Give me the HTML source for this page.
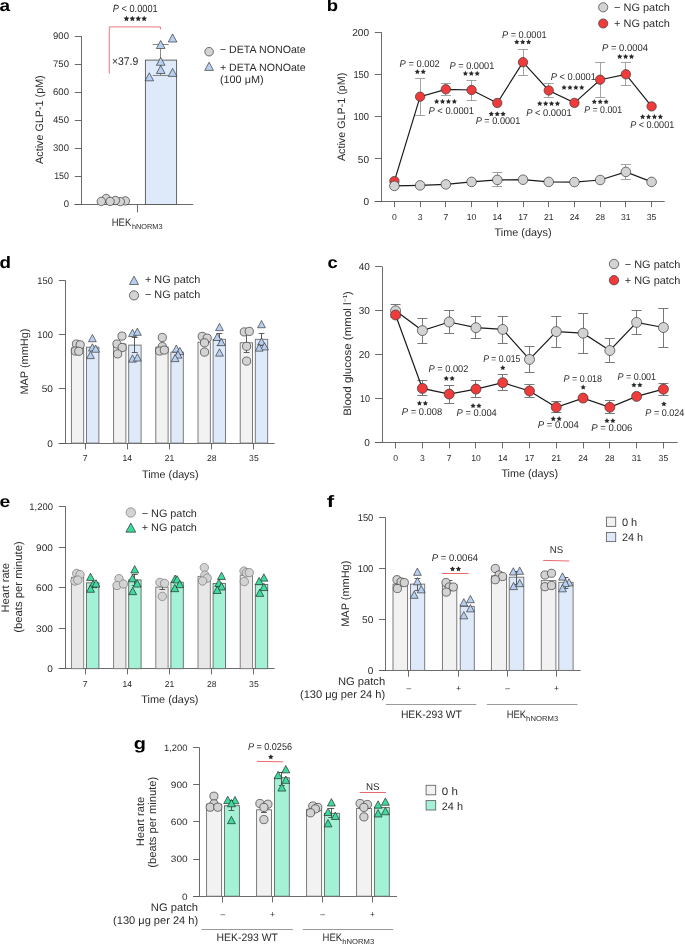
<!DOCTYPE html>
<html><head><meta charset="utf-8"><style>
html,body{margin:0;padding:0;background:#fff;}
svg{display:block;will-change:transform;}
text{font-family:"Liberation Sans", sans-serif;text-rendering:geometricPrecision;}
</style></head><body>
<svg width="685" height="945" viewBox="0 0 685 945">
<rect width="685" height="945" fill="#fff"/>
<g fill="#2b2b2b">
<text x="-0.60" y="11.30" font-size="16.5" textLength="10.60" lengthAdjust="spacingAndGlyphs" font-weight="bold" fill="#000">a</text>
<line x1="74.50" y1="204.50" x2="193.30" y2="204.50" stroke="#5a5a5a" stroke-width="0.9"/>
<line x1="81.50" y1="36.20" x2="81.50" y2="204.50" stroke="#5a5a5a" stroke-width="0.9"/>
<line x1="74.80" y1="204.50" x2="81.50" y2="204.50" stroke="#5a5a5a" stroke-width="0.9"/>
<text x="69.00" y="207.20" font-size="9.5" text-anchor="end" textLength="5.32" lengthAdjust="spacingAndGlyphs">0</text>
<line x1="74.80" y1="176.50" x2="81.50" y2="176.50" stroke="#5a5a5a" stroke-width="0.9"/>
<text x="69.00" y="179.15" font-size="9.5" text-anchor="end" textLength="14.82" lengthAdjust="spacingAndGlyphs">150</text>
<line x1="74.80" y1="148.50" x2="81.50" y2="148.50" stroke="#5a5a5a" stroke-width="0.9"/>
<text x="69.00" y="151.10" font-size="9.5" text-anchor="end" textLength="15.96" lengthAdjust="spacingAndGlyphs">300</text>
<line x1="74.80" y1="120.50" x2="81.50" y2="120.50" stroke="#5a5a5a" stroke-width="0.9"/>
<text x="69.00" y="123.05" font-size="9.5" text-anchor="end" textLength="15.96" lengthAdjust="spacingAndGlyphs">450</text>
<line x1="74.80" y1="92.50" x2="81.50" y2="92.50" stroke="#5a5a5a" stroke-width="0.9"/>
<text x="69.00" y="95.00" font-size="9.5" text-anchor="end" textLength="15.96" lengthAdjust="spacingAndGlyphs">600</text>
<line x1="74.80" y1="64.50" x2="81.50" y2="64.50" stroke="#5a5a5a" stroke-width="0.9"/>
<text x="69.00" y="66.95" font-size="9.5" text-anchor="end" textLength="15.96" lengthAdjust="spacingAndGlyphs">750</text>
<line x1="74.80" y1="36.50" x2="81.50" y2="36.50" stroke="#5a5a5a" stroke-width="0.9"/>
<text x="69.00" y="38.90" font-size="9.5" text-anchor="end" textLength="15.96" lengthAdjust="spacingAndGlyphs">900</text>
<line x1="137.50" y1="204.50" x2="137.50" y2="212.40" stroke="#5a5a5a" stroke-width="0.9"/>
<text transform="translate(42.70,119.60) rotate(-90)" x="0" y="0" font-size="10.8" text-anchor="middle" textLength="88.60" lengthAdjust="spacingAndGlyphs">Active GLP-1 (pM)</text>
<text x="111.80" y="226.00" font-size="10.8" textLength="19.40" lengthAdjust="spacingAndGlyphs">HEK</text>
<text x="131.90" y="229.20" font-size="7.3" textLength="30.60" lengthAdjust="spacingAndGlyphs">hNORM3</text>
<rect x="145.40" y="60.10" width="31.20" height="144.40" fill="#deeafa" stroke="#555" stroke-width="0.9"/>
<line x1="160.50" y1="44.40" x2="160.50" y2="75.50" stroke="#7a7a7a" stroke-width="0.9"/>
<line x1="152.70" y1="44.50" x2="168.70" y2="44.50" stroke="#7a7a7a" stroke-width="0.9"/>
<line x1="152.70" y1="75.50" x2="168.70" y2="75.50" stroke="#7a7a7a" stroke-width="0.9"/>
<circle cx="106.20" cy="198.50" r="4.2" fill="#d3d3d3" stroke="#3a3a3a" stroke-width="0.7"/>
<circle cx="125.40" cy="200.90" r="4.2" fill="#d3d3d3" stroke="#3a3a3a" stroke-width="0.7"/>
<circle cx="120.30" cy="201.60" r="4.2" fill="#d3d3d3" stroke="#3a3a3a" stroke-width="0.7"/>
<circle cx="115.40" cy="200.50" r="4.2" fill="#d3d3d3" stroke="#3a3a3a" stroke-width="0.7"/>
<circle cx="110.10" cy="201.40" r="4.2" fill="#d3d3d3" stroke="#3a3a3a" stroke-width="0.7"/>
<circle cx="101.30" cy="201.40" r="4.2" fill="#d3d3d3" stroke="#3a3a3a" stroke-width="0.7"/>
<polygon points="172.60,34.00 168.30,42.00 176.90,42.00" fill="#b7cff0" stroke="#3a3a3a" stroke-width="0.7" stroke-linejoin="miter"/>
<polygon points="160.70,40.50 156.40,48.50 165.00,48.50" fill="#b7cff0" stroke="#3a3a3a" stroke-width="0.7" stroke-linejoin="miter"/>
<polygon points="160.70,57.30 156.40,65.30 165.00,65.30" fill="#b7cff0" stroke="#3a3a3a" stroke-width="0.7" stroke-linejoin="miter"/>
<polygon points="160.70,65.50 156.40,73.50 165.00,73.50" fill="#b7cff0" stroke="#3a3a3a" stroke-width="0.7" stroke-linejoin="miter"/>
<polygon points="149.30,72.80 145.00,80.80 153.60,80.80" fill="#b7cff0" stroke="#3a3a3a" stroke-width="0.7" stroke-linejoin="miter"/>
<polygon points="172.60,68.40 168.30,76.40 176.90,76.40" fill="#b7cff0" stroke="#3a3a3a" stroke-width="0.7" stroke-linejoin="miter"/>
<path d="M109.3,73.6 V26.9 H160.4 V29.6" fill="none" stroke="#e8585c" stroke-width="0.8"/>
<text x="112.80" y="11.60" font-size="10.4" textLength="44.90" lengthAdjust="spacingAndGlyphs"><tspan font-style="italic">P</tspan> &lt; 0.0001</text>
<polygon points="126.45,15.70 127.33,17.49 129.30,17.77 127.88,19.16 128.21,21.13 126.45,20.20 124.69,21.13 125.02,19.16 123.60,17.77 125.57,17.49" fill="#2b2b2b"/>
<polygon points="132.35,15.70 133.23,17.49 135.20,17.77 133.78,19.16 134.11,21.13 132.35,20.20 130.59,21.13 130.92,19.16 129.50,17.77 131.47,17.49" fill="#2b2b2b"/>
<polygon points="138.25,15.70 139.13,17.49 141.10,17.77 139.68,19.16 140.01,21.13 138.25,20.20 136.49,21.13 136.82,19.16 135.40,17.77 137.37,17.49" fill="#2b2b2b"/>
<polygon points="144.15,15.70 145.03,17.49 147.00,17.77 145.58,19.16 145.91,21.13 144.15,20.20 142.39,21.13 142.72,19.16 141.30,17.77 143.27,17.49" fill="#2b2b2b"/>
<text x="111.90" y="65.20" font-size="11.2" textLength="26.30" lengthAdjust="spacingAndGlyphs">×37.9</text>
<circle cx="209.10" cy="51.70" r="4.3" fill="#d3d3d3" stroke="#3a3a3a" stroke-width="0.7"/>
<polygon points="209.10,62.21 204.70,70.39 213.50,70.39" fill="#b7cff0" stroke="#3a3a3a" stroke-width="0.7" stroke-linejoin="miter"/>
<text x="219.90" y="53.40" font-size="10.6" textLength="85.80" lengthAdjust="spacingAndGlyphs">− DETA NONOate</text>
<text x="219.90" y="70.90" font-size="10.6" textLength="85.80" lengthAdjust="spacingAndGlyphs">+ DETA NONOate</text>
<text x="219.90" y="82.90" font-size="10.6" textLength="43.70" lengthAdjust="spacingAndGlyphs">(100 μM)</text>
<text x="326.70" y="11.30" font-size="16.5" textLength="11.30" lengthAdjust="spacingAndGlyphs" font-weight="bold" fill="#000">b</text>
<line x1="374.80" y1="201.50" x2="664.70" y2="201.50" stroke="#5a5a5a" stroke-width="0.9"/>
<line x1="381.50" y1="32.30" x2="381.50" y2="201.20" stroke="#5a5a5a" stroke-width="0.9"/>
<line x1="374.80" y1="201.50" x2="381.50" y2="201.50" stroke="#5a5a5a" stroke-width="0.9"/>
<text x="369.00" y="204.84" font-size="10.1" text-anchor="end" textLength="5.60" lengthAdjust="spacingAndGlyphs">0</text>
<line x1="374.80" y1="158.50" x2="381.50" y2="158.50" stroke="#5a5a5a" stroke-width="0.9"/>
<text x="369.00" y="162.61" font-size="10.1" text-anchor="end" textLength="11.20" lengthAdjust="spacingAndGlyphs">50</text>
<line x1="374.80" y1="116.50" x2="381.50" y2="116.50" stroke="#5a5a5a" stroke-width="0.9"/>
<text x="369.00" y="120.39" font-size="10.1" text-anchor="end" textLength="15.60" lengthAdjust="spacingAndGlyphs">100</text>
<line x1="374.80" y1="74.50" x2="381.50" y2="74.50" stroke="#5a5a5a" stroke-width="0.9"/>
<text x="369.00" y="78.16" font-size="10.1" text-anchor="end" textLength="15.60" lengthAdjust="spacingAndGlyphs">150</text>
<line x1="374.80" y1="32.50" x2="381.50" y2="32.50" stroke="#5a5a5a" stroke-width="0.9"/>
<text x="369.00" y="35.94" font-size="10.1" text-anchor="end" textLength="16.80" lengthAdjust="spacingAndGlyphs">200</text>
<line x1="394.50" y1="201.20" x2="394.50" y2="207.20" stroke="#5a5a5a" stroke-width="0.9"/>
<text x="394.40" y="219.70" font-size="8.6" text-anchor="middle">0</text>
<line x1="420.50" y1="201.20" x2="420.50" y2="207.20" stroke="#5a5a5a" stroke-width="0.9"/>
<text x="420.12" y="219.70" font-size="8.6" text-anchor="middle">3</text>
<line x1="445.50" y1="201.20" x2="445.50" y2="207.20" stroke="#5a5a5a" stroke-width="0.9"/>
<text x="445.84" y="219.70" font-size="8.6" text-anchor="middle">7</text>
<line x1="471.50" y1="201.20" x2="471.50" y2="207.20" stroke="#5a5a5a" stroke-width="0.9"/>
<text x="471.56" y="219.70" font-size="8.6" text-anchor="middle">10</text>
<line x1="497.50" y1="201.20" x2="497.50" y2="207.20" stroke="#5a5a5a" stroke-width="0.9"/>
<text x="497.28" y="219.70" font-size="8.6" text-anchor="middle">14</text>
<line x1="523.50" y1="201.20" x2="523.50" y2="207.20" stroke="#5a5a5a" stroke-width="0.9"/>
<text x="523.00" y="219.70" font-size="8.6" text-anchor="middle">17</text>
<line x1="548.50" y1="201.20" x2="548.50" y2="207.20" stroke="#5a5a5a" stroke-width="0.9"/>
<text x="548.72" y="219.70" font-size="8.6" text-anchor="middle">21</text>
<line x1="574.50" y1="201.20" x2="574.50" y2="207.20" stroke="#5a5a5a" stroke-width="0.9"/>
<text x="574.44" y="219.70" font-size="8.6" text-anchor="middle">24</text>
<line x1="600.50" y1="201.20" x2="600.50" y2="207.20" stroke="#5a5a5a" stroke-width="0.9"/>
<text x="600.16" y="219.70" font-size="8.6" text-anchor="middle">28</text>
<line x1="625.50" y1="201.20" x2="625.50" y2="207.20" stroke="#5a5a5a" stroke-width="0.9"/>
<text x="625.88" y="219.70" font-size="8.6" text-anchor="middle">31</text>
<line x1="651.50" y1="201.20" x2="651.50" y2="207.20" stroke="#5a5a5a" stroke-width="0.9"/>
<text x="651.60" y="219.70" font-size="8.6" text-anchor="middle">35</text>
<text x="494.60" y="236.40" font-size="10.9" textLength="57.00" lengthAdjust="spacingAndGlyphs">Time (days)</text>
<text transform="translate(344.50,116.90) rotate(-90)" x="0" y="0" font-size="10.8" text-anchor="middle" textLength="88.30" lengthAdjust="spacingAndGlyphs">Active GLP-1 (pM)</text>
<line x1="497.50" y1="172.50" x2="497.50" y2="186.80" stroke="#8c8c8c" stroke-width="0.8"/>
<line x1="492.28" y1="172.50" x2="502.28" y2="172.50" stroke="#8c8c8c" stroke-width="0.8"/>
<line x1="492.28" y1="186.50" x2="502.28" y2="186.50" stroke="#8c8c8c" stroke-width="0.8"/>
<line x1="625.50" y1="164.60" x2="625.50" y2="179.20" stroke="#8c8c8c" stroke-width="0.8"/>
<line x1="620.88" y1="164.50" x2="630.88" y2="164.50" stroke="#8c8c8c" stroke-width="0.8"/>
<line x1="620.88" y1="179.50" x2="630.88" y2="179.50" stroke="#8c8c8c" stroke-width="0.8"/>
<line x1="420.50" y1="78.50" x2="420.50" y2="115.30" stroke="#8c8c8c" stroke-width="0.8"/>
<line x1="415.12" y1="78.50" x2="425.12" y2="78.50" stroke="#8c8c8c" stroke-width="0.8"/>
<line x1="415.12" y1="115.50" x2="425.12" y2="115.50" stroke="#8c8c8c" stroke-width="0.8"/>
<line x1="445.50" y1="83.50" x2="445.50" y2="95.20" stroke="#8c8c8c" stroke-width="0.8"/>
<line x1="440.84" y1="83.50" x2="450.84" y2="83.50" stroke="#8c8c8c" stroke-width="0.8"/>
<line x1="440.84" y1="95.50" x2="450.84" y2="95.50" stroke="#8c8c8c" stroke-width="0.8"/>
<line x1="471.50" y1="80.30" x2="471.50" y2="100.40" stroke="#8c8c8c" stroke-width="0.8"/>
<line x1="466.56" y1="80.50" x2="476.56" y2="80.50" stroke="#8c8c8c" stroke-width="0.8"/>
<line x1="466.56" y1="100.50" x2="476.56" y2="100.50" stroke="#8c8c8c" stroke-width="0.8"/>
<line x1="523.50" y1="49.40" x2="523.50" y2="75.10" stroke="#8c8c8c" stroke-width="0.8"/>
<line x1="518.00" y1="49.50" x2="528.00" y2="49.50" stroke="#8c8c8c" stroke-width="0.8"/>
<line x1="518.00" y1="75.50" x2="528.00" y2="75.50" stroke="#8c8c8c" stroke-width="0.8"/>
<line x1="548.50" y1="83.70" x2="548.50" y2="97.20" stroke="#8c8c8c" stroke-width="0.8"/>
<line x1="543.72" y1="83.50" x2="553.72" y2="83.50" stroke="#8c8c8c" stroke-width="0.8"/>
<line x1="543.72" y1="97.50" x2="553.72" y2="97.50" stroke="#8c8c8c" stroke-width="0.8"/>
<line x1="600.50" y1="62.40" x2="600.50" y2="97.20" stroke="#8c8c8c" stroke-width="0.8"/>
<line x1="595.16" y1="62.50" x2="605.16" y2="62.50" stroke="#8c8c8c" stroke-width="0.8"/>
<line x1="595.16" y1="97.50" x2="605.16" y2="97.50" stroke="#8c8c8c" stroke-width="0.8"/>
<line x1="625.50" y1="62.40" x2="625.50" y2="85.90" stroke="#8c8c8c" stroke-width="0.8"/>
<line x1="620.88" y1="62.50" x2="630.88" y2="62.50" stroke="#8c8c8c" stroke-width="0.8"/>
<line x1="620.88" y1="85.50" x2="630.88" y2="85.50" stroke="#8c8c8c" stroke-width="0.8"/>
<polyline points="394.40,185.90 420.12,185.40 445.84,184.40 471.56,181.90 497.28,179.90 523.00,179.70 548.72,181.90 574.44,182.10 600.16,180.00 625.88,171.90 651.60,181.90" fill="none" stroke="#1a1a1a" stroke-width="1.2"/>
<polyline points="394.40,181.10 420.12,96.70 445.84,89.30 471.56,90.00 497.28,103.00 523.00,62.20 548.72,90.50 574.44,102.90 600.16,79.70 625.88,74.30 651.60,106.40" fill="none" stroke="#1a1a1a" stroke-width="1.2"/>
<circle cx="394.40" cy="181.10" r="4.7" fill="#ef3b3b" stroke="#3a3a3a" stroke-width="0.7"/>
<circle cx="394.40" cy="185.90" r="4.8" fill="#d3d3d3" stroke="#3a3a3a" stroke-width="0.7"/>
<circle cx="420.12" cy="185.40" r="4.8" fill="#d3d3d3" stroke="#3a3a3a" stroke-width="0.7"/>
<circle cx="445.84" cy="184.40" r="4.8" fill="#d3d3d3" stroke="#3a3a3a" stroke-width="0.7"/>
<circle cx="471.56" cy="181.90" r="4.8" fill="#d3d3d3" stroke="#3a3a3a" stroke-width="0.7"/>
<circle cx="497.28" cy="179.90" r="4.8" fill="#d3d3d3" stroke="#3a3a3a" stroke-width="0.7"/>
<circle cx="523.00" cy="179.70" r="4.8" fill="#d3d3d3" stroke="#3a3a3a" stroke-width="0.7"/>
<circle cx="548.72" cy="181.90" r="4.8" fill="#d3d3d3" stroke="#3a3a3a" stroke-width="0.7"/>
<circle cx="574.44" cy="182.10" r="4.8" fill="#d3d3d3" stroke="#3a3a3a" stroke-width="0.7"/>
<circle cx="600.16" cy="180.00" r="4.8" fill="#d3d3d3" stroke="#3a3a3a" stroke-width="0.7"/>
<circle cx="625.88" cy="171.90" r="4.8" fill="#d3d3d3" stroke="#3a3a3a" stroke-width="0.7"/>
<circle cx="651.60" cy="181.90" r="4.8" fill="#d3d3d3" stroke="#3a3a3a" stroke-width="0.7"/>
<circle cx="420.12" cy="96.70" r="4.7" fill="#ef3b3b" stroke="#3a3a3a" stroke-width="0.7"/>
<circle cx="445.84" cy="89.30" r="4.7" fill="#ef3b3b" stroke="#3a3a3a" stroke-width="0.7"/>
<circle cx="471.56" cy="90.00" r="4.7" fill="#ef3b3b" stroke="#3a3a3a" stroke-width="0.7"/>
<circle cx="497.28" cy="103.00" r="4.7" fill="#ef3b3b" stroke="#3a3a3a" stroke-width="0.7"/>
<circle cx="523.00" cy="62.20" r="4.7" fill="#ef3b3b" stroke="#3a3a3a" stroke-width="0.7"/>
<circle cx="548.72" cy="90.50" r="4.7" fill="#ef3b3b" stroke="#3a3a3a" stroke-width="0.7"/>
<circle cx="574.44" cy="102.90" r="4.7" fill="#ef3b3b" stroke="#3a3a3a" stroke-width="0.7"/>
<circle cx="600.16" cy="79.70" r="4.7" fill="#ef3b3b" stroke="#3a3a3a" stroke-width="0.7"/>
<circle cx="625.88" cy="74.30" r="4.7" fill="#ef3b3b" stroke="#3a3a3a" stroke-width="0.7"/>
<circle cx="651.60" cy="106.40" r="4.7" fill="#ef3b3b" stroke="#3a3a3a" stroke-width="0.7"/>
<text x="399.60" y="67.00" font-size="9.8" textLength="40.20" lengthAdjust="spacingAndGlyphs"><tspan font-style="italic">P</tspan> = 0.002</text>
<polygon points="417.35,69.00 418.17,70.67 420.01,70.93 418.68,72.23 419.00,74.07 417.35,73.20 415.70,74.07 416.02,72.23 414.69,70.93 416.53,70.67" fill="#2b2b2b"/>
<polygon points="423.25,69.00 424.07,70.67 425.91,70.93 424.58,72.23 424.90,74.07 423.25,73.20 421.60,74.07 421.92,72.23 420.59,70.93 422.43,70.67" fill="#2b2b2b"/>
<polygon points="436.65,98.80 437.47,100.47 439.31,100.73 437.98,102.03 438.30,103.87 436.65,103.00 435.00,103.87 435.32,102.03 433.99,100.73 435.83,100.47" fill="#2b2b2b"/>
<polygon points="442.55,98.80 443.37,100.47 445.21,100.73 443.88,102.03 444.20,103.87 442.55,103.00 440.90,103.87 441.22,102.03 439.89,100.73 441.73,100.47" fill="#2b2b2b"/>
<polygon points="448.45,98.80 449.27,100.47 451.11,100.73 449.78,102.03 450.10,103.87 448.45,103.00 446.80,103.87 447.12,102.03 445.79,100.73 447.63,100.47" fill="#2b2b2b"/>
<polygon points="454.35,98.80 455.17,100.47 457.01,100.73 455.68,102.03 456.00,103.87 454.35,103.00 452.70,103.87 453.02,102.03 451.69,100.73 453.53,100.47" fill="#2b2b2b"/>
<text x="428.50" y="114.00" font-size="9.8" textLength="45.50" lengthAdjust="spacingAndGlyphs"><tspan font-style="italic">P</tspan> &lt; 0.0001</text>
<text x="449.60" y="68.60" font-size="9.8" textLength="44.70" lengthAdjust="spacingAndGlyphs"><tspan font-style="italic">P</tspan> = 0.0001</text>
<polygon points="465.40,70.80 466.22,72.47 468.06,72.73 466.73,74.03 467.05,75.87 465.40,75.00 463.75,75.87 464.07,74.03 462.74,72.73 464.58,72.47" fill="#2b2b2b"/>
<polygon points="471.30,70.80 472.12,72.47 473.96,72.73 472.63,74.03 472.95,75.87 471.30,75.00 469.65,75.87 469.97,74.03 468.64,72.73 470.48,72.47" fill="#2b2b2b"/>
<polygon points="477.20,70.80 478.02,72.47 479.86,72.73 478.53,74.03 478.85,75.87 477.20,75.00 475.55,75.87 475.87,74.03 474.54,72.73 476.38,72.47" fill="#2b2b2b"/>
<polygon points="491.30,111.20 492.12,112.87 493.96,113.13 492.63,114.43 492.95,116.27 491.30,115.40 489.65,116.27 489.97,114.43 488.64,113.13 490.48,112.87" fill="#2b2b2b"/>
<polygon points="497.20,111.20 498.02,112.87 499.86,113.13 498.53,114.43 498.85,116.27 497.20,115.40 495.55,116.27 495.87,114.43 494.54,113.13 496.38,112.87" fill="#2b2b2b"/>
<polygon points="503.10,111.20 503.92,112.87 505.76,113.13 504.43,114.43 504.75,116.27 503.10,115.40 501.45,116.27 501.77,114.43 500.44,113.13 502.28,112.87" fill="#2b2b2b"/>
<text x="475.70" y="124.40" font-size="9.8" textLength="44.60" lengthAdjust="spacingAndGlyphs"><tspan font-style="italic">P</tspan> = 0.0001</text>
<text x="502.00" y="37.60" font-size="9.8" textLength="44.70" lengthAdjust="spacingAndGlyphs"><tspan font-style="italic">P</tspan> = 0.0001</text>
<polygon points="516.80,39.30 517.62,40.97 519.46,41.23 518.13,42.53 518.45,44.37 516.80,43.50 515.15,44.37 515.47,42.53 514.14,41.23 515.98,40.97" fill="#2b2b2b"/>
<polygon points="522.70,39.30 523.52,40.97 525.36,41.23 524.03,42.53 524.35,44.37 522.70,43.50 521.05,44.37 521.37,42.53 520.04,41.23 521.88,40.97" fill="#2b2b2b"/>
<polygon points="528.60,39.30 529.42,40.97 531.26,41.23 529.93,42.53 530.25,44.37 528.60,43.50 526.95,44.37 527.27,42.53 525.94,41.23 527.78,40.97" fill="#2b2b2b"/>
<polygon points="539.75,100.90 540.57,102.57 542.41,102.83 541.08,104.13 541.40,105.97 539.75,105.10 538.10,105.97 538.42,104.13 537.09,102.83 538.93,102.57" fill="#2b2b2b"/>
<polygon points="545.65,100.90 546.47,102.57 548.31,102.83 546.98,104.13 547.30,105.97 545.65,105.10 544.00,105.97 544.32,104.13 542.99,102.83 544.83,102.57" fill="#2b2b2b"/>
<polygon points="551.55,100.90 552.37,102.57 554.21,102.83 552.88,104.13 553.20,105.97 551.55,105.10 549.90,105.97 550.22,104.13 548.89,102.83 550.73,102.57" fill="#2b2b2b"/>
<polygon points="557.45,100.90 558.27,102.57 560.11,102.83 558.78,104.13 559.10,105.97 557.45,105.10 555.80,105.97 556.12,104.13 554.79,102.83 556.63,102.57" fill="#2b2b2b"/>
<text x="526.20" y="115.60" font-size="9.8" textLength="45.40" lengthAdjust="spacingAndGlyphs"><tspan font-style="italic">P</tspan> &lt; 0.0001</text>
<text x="550.80" y="79.90" font-size="9.8" textLength="45.10" lengthAdjust="spacingAndGlyphs"><tspan font-style="italic">P</tspan> &lt; 0.0001</text>
<polygon points="564.05,84.80 564.87,86.47 566.71,86.73 565.38,88.03 565.70,89.87 564.05,89.00 562.40,89.87 562.72,88.03 561.39,86.73 563.23,86.47" fill="#2b2b2b"/>
<polygon points="569.95,84.80 570.77,86.47 572.61,86.73 571.28,88.03 571.60,89.87 569.95,89.00 568.30,89.87 568.62,88.03 567.29,86.73 569.13,86.47" fill="#2b2b2b"/>
<polygon points="575.85,84.80 576.67,86.47 578.51,86.73 577.18,88.03 577.50,89.87 575.85,89.00 574.20,89.87 574.52,88.03 573.19,86.73 575.03,86.47" fill="#2b2b2b"/>
<polygon points="581.75,84.80 582.57,86.47 584.41,86.73 583.08,88.03 583.40,89.87 581.75,89.00 580.10,89.87 580.42,88.03 579.09,86.73 580.93,86.47" fill="#2b2b2b"/>
<polygon points="594.30,99.00 595.12,100.67 596.96,100.93 595.63,102.23 595.95,104.07 594.30,103.20 592.65,104.07 592.97,102.23 591.64,100.93 593.48,100.67" fill="#2b2b2b"/>
<polygon points="600.20,99.00 601.02,100.67 602.86,100.93 601.53,102.23 601.85,104.07 600.20,103.20 598.55,104.07 598.87,102.23 597.54,100.93 599.38,100.67" fill="#2b2b2b"/>
<polygon points="606.10,99.00 606.92,100.67 608.76,100.93 607.43,102.23 607.75,104.07 606.10,103.20 604.45,104.07 604.77,102.23 603.44,100.93 605.28,100.67" fill="#2b2b2b"/>
<text x="584.30" y="112.90" font-size="9.8" textLength="37.70" lengthAdjust="spacingAndGlyphs"><tspan font-style="italic">P</tspan> = 0.001</text>
<text x="602.00" y="51.30" font-size="9.8" textLength="46.00" lengthAdjust="spacingAndGlyphs"><tspan font-style="italic">P</tspan> = 0.0004</text>
<polygon points="619.70,53.90 620.52,55.57 622.36,55.83 621.03,57.13 621.35,58.97 619.70,58.10 618.05,58.97 618.37,57.13 617.04,55.83 618.88,55.57" fill="#2b2b2b"/>
<polygon points="625.60,53.90 626.42,55.57 628.26,55.83 626.93,57.13 627.25,58.97 625.60,58.10 623.95,58.97 624.27,57.13 622.94,55.83 624.78,55.57" fill="#2b2b2b"/>
<polygon points="631.50,53.90 632.32,55.57 634.16,55.83 632.83,57.13 633.15,58.97 631.50,58.10 629.85,58.97 630.17,57.13 628.84,55.83 630.68,55.57" fill="#2b2b2b"/>
<polygon points="642.65,114.10 643.47,115.77 645.31,116.03 643.98,117.33 644.30,119.17 642.65,118.30 641.00,119.17 641.32,117.33 639.99,116.03 641.83,115.77" fill="#2b2b2b"/>
<polygon points="648.55,114.10 649.37,115.77 651.21,116.03 649.88,117.33 650.20,119.17 648.55,118.30 646.90,119.17 647.22,117.33 645.89,116.03 647.73,115.77" fill="#2b2b2b"/>
<polygon points="654.45,114.10 655.27,115.77 657.11,116.03 655.78,117.33 656.10,119.17 654.45,118.30 652.80,119.17 653.12,117.33 651.79,116.03 653.63,115.77" fill="#2b2b2b"/>
<polygon points="660.35,114.10 661.17,115.77 663.01,116.03 661.68,117.33 662.00,119.17 660.35,118.30 658.70,119.17 659.02,117.33 657.69,116.03 659.53,115.77" fill="#2b2b2b"/>
<text x="630.20" y="128.30" font-size="9.8" textLength="44.00" lengthAdjust="spacingAndGlyphs"><tspan font-style="italic">P</tspan> &lt; 0.0001</text>
<circle cx="603.20" cy="7.30" r="4.6" fill="#d3d3d3" stroke="#3a3a3a" stroke-width="0.7"/>
<circle cx="603.20" cy="23.50" r="4.6" fill="#ef3b3b" stroke="#3a3a3a" stroke-width="0.7"/>
<text x="614.00" y="10.80" font-size="10.8" textLength="55.80" lengthAdjust="spacingAndGlyphs">− NG patch</text>
<text x="614.00" y="27.00" font-size="10.8" textLength="55.80" lengthAdjust="spacingAndGlyphs">+ NG patch</text>
<text x="-0.60" y="267.50" font-size="16.5" textLength="11.50" lengthAdjust="spacingAndGlyphs" font-weight="bold" fill="#000">d</text>
<line x1="58.80" y1="443.50" x2="274.70" y2="443.50" stroke="#5a5a5a" stroke-width="0.9"/>
<line x1="65.50" y1="280.46" x2="65.50" y2="443.10" stroke="#5a5a5a" stroke-width="0.9"/>
<line x1="58.80" y1="443.50" x2="65.70" y2="443.50" stroke="#5a5a5a" stroke-width="0.9"/>
<text x="52.90" y="446.56" font-size="9.6" text-anchor="end" textLength="5.60" lengthAdjust="spacingAndGlyphs">0</text>
<line x1="58.80" y1="388.50" x2="65.70" y2="388.50" stroke="#5a5a5a" stroke-width="0.9"/>
<text x="52.90" y="392.34" font-size="9.6" text-anchor="end" textLength="11.20" lengthAdjust="spacingAndGlyphs">50</text>
<line x1="58.80" y1="334.50" x2="65.70" y2="334.50" stroke="#5a5a5a" stroke-width="0.9"/>
<text x="52.90" y="338.13" font-size="9.6" text-anchor="end" textLength="15.60" lengthAdjust="spacingAndGlyphs">100</text>
<line x1="58.80" y1="280.50" x2="65.70" y2="280.50" stroke="#5a5a5a" stroke-width="0.9"/>
<text x="52.90" y="283.91" font-size="9.6" text-anchor="end" textLength="15.60" lengthAdjust="spacingAndGlyphs">150</text>
<line x1="85.50" y1="443.10" x2="85.50" y2="449.40" stroke="#5a5a5a" stroke-width="0.9"/>
<text x="85.10" y="460.80" font-size="8.6" text-anchor="middle">7</text>
<line x1="127.50" y1="443.10" x2="127.50" y2="449.40" stroke="#5a5a5a" stroke-width="0.9"/>
<text x="127.30" y="460.80" font-size="8.6" text-anchor="middle">14</text>
<line x1="169.50" y1="443.10" x2="169.50" y2="449.40" stroke="#5a5a5a" stroke-width="0.9"/>
<text x="169.50" y="460.80" font-size="8.6" text-anchor="middle">21</text>
<line x1="211.50" y1="443.10" x2="211.50" y2="449.40" stroke="#5a5a5a" stroke-width="0.9"/>
<text x="211.70" y="460.80" font-size="8.6" text-anchor="middle">28</text>
<line x1="253.50" y1="443.10" x2="253.50" y2="449.40" stroke="#5a5a5a" stroke-width="0.9"/>
<text x="253.90" y="460.80" font-size="8.6" text-anchor="middle">35</text>
<text x="142.00" y="477.50" font-size="10.9" textLength="56.50" lengthAdjust="spacingAndGlyphs">Time (days)</text>
<text transform="translate(28.05,361.60) rotate(-90)" x="0" y="0" font-size="10.9" text-anchor="middle" textLength="66.00" lengthAdjust="spacingAndGlyphs">MAP (mmHg)</text>
<rect x="71.40" y="348.00" width="12.30" height="95.10" fill="#f2f2f2" stroke="#6e6e6e" stroke-width="0.9"/>
<rect x="86.50" y="347.20" width="12.40" height="95.90" fill="#deeafa" stroke="#6e6e6e" stroke-width="0.9"/>
<rect x="113.60" y="344.00" width="12.30" height="99.10" fill="#f2f2f2" stroke="#6e6e6e" stroke-width="0.9"/>
<rect x="128.70" y="345.10" width="12.40" height="98.00" fill="#deeafa" stroke="#6e6e6e" stroke-width="0.9"/>
<rect x="155.80" y="347.10" width="12.30" height="96.00" fill="#f2f2f2" stroke="#6e6e6e" stroke-width="0.9"/>
<rect x="170.90" y="352.10" width="12.40" height="91.00" fill="#deeafa" stroke="#6e6e6e" stroke-width="0.9"/>
<rect x="198.00" y="342.20" width="12.30" height="100.90" fill="#f2f2f2" stroke="#6e6e6e" stroke-width="0.9"/>
<rect x="213.10" y="339.30" width="12.40" height="103.80" fill="#deeafa" stroke="#6e6e6e" stroke-width="0.9"/>
<rect x="240.20" y="342.80" width="12.30" height="100.30" fill="#f2f2f2" stroke="#6e6e6e" stroke-width="0.9"/>
<rect x="255.30" y="339.30" width="12.40" height="103.80" fill="#deeafa" stroke="#6e6e6e" stroke-width="0.9"/>
<line x1="134.50" y1="337.00" x2="134.50" y2="352.10" stroke="#4a4a4a" stroke-width="0.9"/>
<line x1="131.80" y1="337.50" x2="137.60" y2="337.50" stroke="#4a4a4a" stroke-width="0.9"/>
<line x1="131.80" y1="352.50" x2="137.60" y2="352.50" stroke="#4a4a4a" stroke-width="0.9"/>
<line x1="246.50" y1="332.00" x2="246.50" y2="352.00" stroke="#4a4a4a" stroke-width="0.9"/>
<line x1="243.70" y1="332.50" x2="249.50" y2="332.50" stroke="#4a4a4a" stroke-width="0.9"/>
<line x1="243.70" y1="352.50" x2="249.50" y2="352.50" stroke="#4a4a4a" stroke-width="0.9"/>
<line x1="219.50" y1="333.40" x2="219.50" y2="345.00" stroke="#4a4a4a" stroke-width="0.9"/>
<line x1="216.60" y1="333.50" x2="222.40" y2="333.50" stroke="#4a4a4a" stroke-width="0.9"/>
<line x1="216.60" y1="345.50" x2="222.40" y2="345.50" stroke="#4a4a4a" stroke-width="0.9"/>
<line x1="261.50" y1="333.80" x2="261.50" y2="345.00" stroke="#4a4a4a" stroke-width="0.9"/>
<line x1="258.60" y1="333.50" x2="264.40" y2="333.50" stroke="#4a4a4a" stroke-width="0.9"/>
<line x1="258.60" y1="345.50" x2="264.40" y2="345.50" stroke="#4a4a4a" stroke-width="0.9"/>
<circle cx="76.40" cy="344.00" r="4.1" fill="#d3d3d3" stroke="#3a3a3a" stroke-width="0.7"/>
<circle cx="80.20" cy="344.80" r="4.1" fill="#d3d3d3" stroke="#3a3a3a" stroke-width="0.7"/>
<circle cx="75.30" cy="351.00" r="4.1" fill="#d3d3d3" stroke="#3a3a3a" stroke-width="0.7"/>
<circle cx="78.80" cy="351.30" r="4.1" fill="#d3d3d3" stroke="#3a3a3a" stroke-width="0.7"/>
<circle cx="122.00" cy="336.10" r="4.1" fill="#d3d3d3" stroke="#3a3a3a" stroke-width="0.7"/>
<circle cx="117.00" cy="344.00" r="4.1" fill="#d3d3d3" stroke="#3a3a3a" stroke-width="0.7"/>
<circle cx="122.20" cy="347.50" r="4.1" fill="#d3d3d3" stroke="#3a3a3a" stroke-width="0.7"/>
<circle cx="117.60" cy="353.90" r="4.1" fill="#d3d3d3" stroke="#3a3a3a" stroke-width="0.7"/>
<circle cx="162.30" cy="337.50" r="4.1" fill="#d3d3d3" stroke="#3a3a3a" stroke-width="0.7"/>
<circle cx="162.30" cy="346.60" r="4.1" fill="#d3d3d3" stroke="#3a3a3a" stroke-width="0.7"/>
<circle cx="159.60" cy="351.00" r="4.1" fill="#d3d3d3" stroke="#3a3a3a" stroke-width="0.7"/>
<circle cx="164.30" cy="350.10" r="4.1" fill="#d3d3d3" stroke="#3a3a3a" stroke-width="0.7"/>
<circle cx="202.20" cy="336.40" r="4.1" fill="#d3d3d3" stroke="#3a3a3a" stroke-width="0.7"/>
<circle cx="207.20" cy="338.10" r="4.1" fill="#d3d3d3" stroke="#3a3a3a" stroke-width="0.7"/>
<circle cx="204.50" cy="342.80" r="4.1" fill="#d3d3d3" stroke="#3a3a3a" stroke-width="0.7"/>
<circle cx="204.50" cy="352.10" r="4.1" fill="#d3d3d3" stroke="#3a3a3a" stroke-width="0.7"/>
<circle cx="244.30" cy="331.90" r="4.1" fill="#d3d3d3" stroke="#3a3a3a" stroke-width="0.7"/>
<circle cx="249.30" cy="331.40" r="4.1" fill="#d3d3d3" stroke="#3a3a3a" stroke-width="0.7"/>
<circle cx="246.60" cy="346.30" r="4.1" fill="#d3d3d3" stroke="#3a3a3a" stroke-width="0.7"/>
<circle cx="246.60" cy="361.10" r="4.1" fill="#d3d3d3" stroke="#3a3a3a" stroke-width="0.7"/>
<polygon points="92.40,334.47 88.50,341.73 96.30,341.73" fill="#b7cff0" stroke="#3a3a3a" stroke-width="0.7" stroke-linejoin="miter"/>
<polygon points="92.40,343.77 88.50,351.03 96.30,351.03" fill="#b7cff0" stroke="#3a3a3a" stroke-width="0.7" stroke-linejoin="miter"/>
<polygon points="95.60,344.97 91.70,352.23 99.50,352.23" fill="#b7cff0" stroke="#3a3a3a" stroke-width="0.7" stroke-linejoin="miter"/>
<polygon points="90.50,351.37 86.60,358.63 94.40,358.63" fill="#b7cff0" stroke="#3a3a3a" stroke-width="0.7" stroke-linejoin="miter"/>
<polygon points="132.50,329.27 128.60,336.53 136.40,336.53" fill="#b7cff0" stroke="#3a3a3a" stroke-width="0.7" stroke-linejoin="miter"/>
<polygon points="137.40,328.07 133.50,335.33 141.30,335.33" fill="#b7cff0" stroke="#3a3a3a" stroke-width="0.7" stroke-linejoin="miter"/>
<polygon points="132.50,354.87 128.60,362.13 136.40,362.13" fill="#b7cff0" stroke="#3a3a3a" stroke-width="0.7" stroke-linejoin="miter"/>
<polygon points="137.40,353.77 133.50,361.03 141.30,361.03" fill="#b7cff0" stroke="#3a3a3a" stroke-width="0.7" stroke-linejoin="miter"/>
<polygon points="176.30,344.97 172.40,352.23 180.20,352.23" fill="#b7cff0" stroke="#3a3a3a" stroke-width="0.7" stroke-linejoin="miter"/>
<polygon points="179.80,347.37 175.90,354.63 183.70,354.63" fill="#b7cff0" stroke="#3a3a3a" stroke-width="0.7" stroke-linejoin="miter"/>
<polygon points="178.00,350.87 174.10,358.13 181.90,358.13" fill="#b7cff0" stroke="#3a3a3a" stroke-width="0.7" stroke-linejoin="miter"/>
<polygon points="175.10,354.37 171.20,361.63 179.00,361.63" fill="#b7cff0" stroke="#3a3a3a" stroke-width="0.7" stroke-linejoin="miter"/>
<polygon points="219.50,323.37 215.60,330.63 223.40,330.63" fill="#b7cff0" stroke="#3a3a3a" stroke-width="0.7" stroke-linejoin="miter"/>
<polygon points="217.20,333.27 213.30,340.53 221.10,340.53" fill="#b7cff0" stroke="#3a3a3a" stroke-width="0.7" stroke-linejoin="miter"/>
<polygon points="221.30,338.37 217.40,345.63 225.20,345.63" fill="#b7cff0" stroke="#3a3a3a" stroke-width="0.7" stroke-linejoin="miter"/>
<polygon points="219.50,348.87 215.60,356.13 223.40,356.13" fill="#b7cff0" stroke="#3a3a3a" stroke-width="0.7" stroke-linejoin="miter"/>
<polygon points="261.50,320.47 257.60,327.73 265.40,327.73" fill="#b7cff0" stroke="#3a3a3a" stroke-width="0.7" stroke-linejoin="miter"/>
<polygon points="261.50,337.97 257.60,345.23 265.40,345.23" fill="#b7cff0" stroke="#3a3a3a" stroke-width="0.7" stroke-linejoin="miter"/>
<polygon points="264.50,342.67 260.60,349.93 268.40,349.93" fill="#b7cff0" stroke="#3a3a3a" stroke-width="0.7" stroke-linejoin="miter"/>
<polygon points="259.20,343.87 255.30,351.13 263.10,351.13" fill="#b7cff0" stroke="#3a3a3a" stroke-width="0.7" stroke-linejoin="miter"/>
<polygon points="134.00,276.12 129.50,284.49 138.50,284.49" fill="#b7cff0" stroke="#3a3a3a" stroke-width="0.7" stroke-linejoin="miter"/>
<circle cx="134.00" cy="295.40" r="4.6" fill="#d3d3d3" stroke="#3a3a3a" stroke-width="0.7"/>
<text x="145.00" y="283.00" font-size="10.8" textLength="55.30" lengthAdjust="spacingAndGlyphs">+ NG patch</text>
<text x="145.00" y="298.40" font-size="10.8" textLength="55.30" lengthAdjust="spacingAndGlyphs">− NG patch</text>
<text x="327.40" y="267.80" font-size="16.5" textLength="10.20" lengthAdjust="spacingAndGlyphs" font-weight="bold" fill="#000">c</text>
<line x1="375.10" y1="442.50" x2="677.70" y2="442.50" stroke="#5a5a5a" stroke-width="0.9"/>
<line x1="382.50" y1="266.60" x2="382.50" y2="442.20" stroke="#5a5a5a" stroke-width="0.9"/>
<line x1="375.10" y1="442.50" x2="382.20" y2="442.50" stroke="#5a5a5a" stroke-width="0.9"/>
<text x="369.90" y="445.80" font-size="10.0" text-anchor="end" textLength="5.60" lengthAdjust="spacingAndGlyphs">0</text>
<line x1="375.10" y1="398.50" x2="382.20" y2="398.50" stroke="#5a5a5a" stroke-width="0.9"/>
<text x="369.90" y="401.90" font-size="10.0" text-anchor="end" textLength="10.00" lengthAdjust="spacingAndGlyphs">10</text>
<line x1="375.10" y1="354.50" x2="382.20" y2="354.50" stroke="#5a5a5a" stroke-width="0.9"/>
<text x="369.90" y="358.00" font-size="10.0" text-anchor="end" textLength="11.20" lengthAdjust="spacingAndGlyphs">20</text>
<line x1="375.10" y1="310.50" x2="382.20" y2="310.50" stroke="#5a5a5a" stroke-width="0.9"/>
<text x="369.90" y="314.10" font-size="10.0" text-anchor="end" textLength="11.20" lengthAdjust="spacingAndGlyphs">30</text>
<line x1="375.10" y1="266.50" x2="382.20" y2="266.50" stroke="#5a5a5a" stroke-width="0.9"/>
<text x="369.90" y="270.20" font-size="10.0" text-anchor="end" textLength="11.20" lengthAdjust="spacingAndGlyphs">40</text>
<line x1="395.50" y1="442.20" x2="395.50" y2="448.40" stroke="#5a5a5a" stroke-width="0.9"/>
<text x="395.60" y="461.20" font-size="8.6" text-anchor="middle">0</text>
<line x1="422.50" y1="442.20" x2="422.50" y2="448.40" stroke="#5a5a5a" stroke-width="0.9"/>
<text x="422.38" y="461.20" font-size="8.6" text-anchor="middle">3</text>
<line x1="449.50" y1="442.20" x2="449.50" y2="448.40" stroke="#5a5a5a" stroke-width="0.9"/>
<text x="449.16" y="461.20" font-size="8.6" text-anchor="middle">7</text>
<line x1="475.50" y1="442.20" x2="475.50" y2="448.40" stroke="#5a5a5a" stroke-width="0.9"/>
<text x="475.94" y="461.20" font-size="8.6" text-anchor="middle">10</text>
<line x1="502.50" y1="442.20" x2="502.50" y2="448.40" stroke="#5a5a5a" stroke-width="0.9"/>
<text x="502.72" y="461.20" font-size="8.6" text-anchor="middle">14</text>
<line x1="529.50" y1="442.20" x2="529.50" y2="448.40" stroke="#5a5a5a" stroke-width="0.9"/>
<text x="529.50" y="461.20" font-size="8.6" text-anchor="middle">17</text>
<line x1="556.50" y1="442.20" x2="556.50" y2="448.40" stroke="#5a5a5a" stroke-width="0.9"/>
<text x="556.28" y="461.20" font-size="8.6" text-anchor="middle">21</text>
<line x1="583.50" y1="442.20" x2="583.50" y2="448.40" stroke="#5a5a5a" stroke-width="0.9"/>
<text x="583.06" y="461.20" font-size="8.6" text-anchor="middle">24</text>
<line x1="609.50" y1="442.20" x2="609.50" y2="448.40" stroke="#5a5a5a" stroke-width="0.9"/>
<text x="609.84" y="461.20" font-size="8.6" text-anchor="middle">28</text>
<line x1="636.50" y1="442.20" x2="636.50" y2="448.40" stroke="#5a5a5a" stroke-width="0.9"/>
<text x="636.62" y="461.20" font-size="8.6" text-anchor="middle">31</text>
<line x1="663.50" y1="442.20" x2="663.50" y2="448.40" stroke="#5a5a5a" stroke-width="0.9"/>
<text x="663.40" y="461.20" font-size="8.6" text-anchor="middle">35</text>
<text x="501.40" y="476.90" font-size="10.9" textLength="56.60" lengthAdjust="spacingAndGlyphs">Time (days)</text>
<text transform="translate(350.80,353.50) rotate(-90)" x="0" y="0" font-size="10.8" text-anchor="middle" textLength="124.70" lengthAdjust="spacingAndGlyphs">Blood glucose (mmol l<tspan font-size="6" dy="-3.5">−1</tspan><tspan dy="3.5">)</tspan></text>
<line x1="395.50" y1="304.10" x2="395.50" y2="317.50" stroke="#6a6a6a" stroke-width="0.9"/>
<line x1="390.60" y1="304.50" x2="400.60" y2="304.50" stroke="#6a6a6a" stroke-width="0.9"/>
<line x1="390.60" y1="317.50" x2="400.60" y2="317.50" stroke="#6a6a6a" stroke-width="0.9"/>
<line x1="422.50" y1="318.20" x2="422.50" y2="343.50" stroke="#6a6a6a" stroke-width="0.9"/>
<line x1="417.38" y1="318.50" x2="427.38" y2="318.50" stroke="#6a6a6a" stroke-width="0.9"/>
<line x1="417.38" y1="343.50" x2="427.38" y2="343.50" stroke="#6a6a6a" stroke-width="0.9"/>
<line x1="449.50" y1="310.30" x2="449.50" y2="333.10" stroke="#6a6a6a" stroke-width="0.9"/>
<line x1="444.16" y1="310.50" x2="454.16" y2="310.50" stroke="#6a6a6a" stroke-width="0.9"/>
<line x1="444.16" y1="333.50" x2="454.16" y2="333.50" stroke="#6a6a6a" stroke-width="0.9"/>
<line x1="475.50" y1="316.50" x2="475.50" y2="338.30" stroke="#6a6a6a" stroke-width="0.9"/>
<line x1="470.94" y1="316.50" x2="480.94" y2="316.50" stroke="#6a6a6a" stroke-width="0.9"/>
<line x1="470.94" y1="338.50" x2="480.94" y2="338.50" stroke="#6a6a6a" stroke-width="0.9"/>
<line x1="502.50" y1="316.50" x2="502.50" y2="343.00" stroke="#6a6a6a" stroke-width="0.9"/>
<line x1="497.72" y1="316.50" x2="507.72" y2="316.50" stroke="#6a6a6a" stroke-width="0.9"/>
<line x1="497.72" y1="343.50" x2="507.72" y2="343.50" stroke="#6a6a6a" stroke-width="0.9"/>
<line x1="529.50" y1="346.30" x2="529.50" y2="372.50" stroke="#6a6a6a" stroke-width="0.9"/>
<line x1="524.50" y1="346.50" x2="534.50" y2="346.50" stroke="#6a6a6a" stroke-width="0.9"/>
<line x1="524.50" y1="372.50" x2="534.50" y2="372.50" stroke="#6a6a6a" stroke-width="0.9"/>
<line x1="556.50" y1="316.20" x2="556.50" y2="347.20" stroke="#6a6a6a" stroke-width="0.9"/>
<line x1="551.28" y1="316.50" x2="561.28" y2="316.50" stroke="#6a6a6a" stroke-width="0.9"/>
<line x1="551.28" y1="347.50" x2="561.28" y2="347.50" stroke="#6a6a6a" stroke-width="0.9"/>
<line x1="583.50" y1="313.50" x2="583.50" y2="353.20" stroke="#6a6a6a" stroke-width="0.9"/>
<line x1="578.06" y1="313.50" x2="588.06" y2="313.50" stroke="#6a6a6a" stroke-width="0.9"/>
<line x1="578.06" y1="353.50" x2="588.06" y2="353.50" stroke="#6a6a6a" stroke-width="0.9"/>
<line x1="609.50" y1="338.30" x2="609.50" y2="362.10" stroke="#6a6a6a" stroke-width="0.9"/>
<line x1="604.84" y1="338.50" x2="614.84" y2="338.50" stroke="#6a6a6a" stroke-width="0.9"/>
<line x1="604.84" y1="362.50" x2="614.84" y2="362.50" stroke="#6a6a6a" stroke-width="0.9"/>
<line x1="636.50" y1="310.20" x2="636.50" y2="334.50" stroke="#6a6a6a" stroke-width="0.9"/>
<line x1="631.62" y1="310.50" x2="641.62" y2="310.50" stroke="#6a6a6a" stroke-width="0.9"/>
<line x1="631.62" y1="334.50" x2="641.62" y2="334.50" stroke="#6a6a6a" stroke-width="0.9"/>
<line x1="663.50" y1="308.10" x2="663.50" y2="347.20" stroke="#6a6a6a" stroke-width="0.9"/>
<line x1="658.40" y1="308.50" x2="668.40" y2="308.50" stroke="#6a6a6a" stroke-width="0.9"/>
<line x1="658.40" y1="347.50" x2="668.40" y2="347.50" stroke="#6a6a6a" stroke-width="0.9"/>
<line x1="422.50" y1="380.40" x2="422.50" y2="395.80" stroke="#6a6a6a" stroke-width="0.9"/>
<line x1="417.38" y1="380.50" x2="427.38" y2="380.50" stroke="#6a6a6a" stroke-width="0.9"/>
<line x1="417.38" y1="395.50" x2="427.38" y2="395.50" stroke="#6a6a6a" stroke-width="0.9"/>
<line x1="449.50" y1="385.40" x2="449.50" y2="403.30" stroke="#6a6a6a" stroke-width="0.9"/>
<line x1="444.16" y1="385.50" x2="454.16" y2="385.50" stroke="#6a6a6a" stroke-width="0.9"/>
<line x1="444.16" y1="403.50" x2="454.16" y2="403.50" stroke="#6a6a6a" stroke-width="0.9"/>
<line x1="475.50" y1="380.20" x2="475.50" y2="397.60" stroke="#6a6a6a" stroke-width="0.9"/>
<line x1="470.94" y1="380.50" x2="480.94" y2="380.50" stroke="#6a6a6a" stroke-width="0.9"/>
<line x1="470.94" y1="397.50" x2="480.94" y2="397.50" stroke="#6a6a6a" stroke-width="0.9"/>
<line x1="502.50" y1="374.20" x2="502.50" y2="390.40" stroke="#6a6a6a" stroke-width="0.9"/>
<line x1="497.72" y1="374.50" x2="507.72" y2="374.50" stroke="#6a6a6a" stroke-width="0.9"/>
<line x1="497.72" y1="390.50" x2="507.72" y2="390.50" stroke="#6a6a6a" stroke-width="0.9"/>
<line x1="529.50" y1="384.60" x2="529.50" y2="397.30" stroke="#6a6a6a" stroke-width="0.9"/>
<line x1="524.50" y1="384.50" x2="534.50" y2="384.50" stroke="#6a6a6a" stroke-width="0.9"/>
<line x1="524.50" y1="397.50" x2="534.50" y2="397.50" stroke="#6a6a6a" stroke-width="0.9"/>
<line x1="556.50" y1="401.30" x2="556.50" y2="412.70" stroke="#6a6a6a" stroke-width="0.9"/>
<line x1="551.28" y1="401.50" x2="561.28" y2="401.50" stroke="#6a6a6a" stroke-width="0.9"/>
<line x1="551.28" y1="412.50" x2="561.28" y2="412.50" stroke="#6a6a6a" stroke-width="0.9"/>
<line x1="609.50" y1="400.80" x2="609.50" y2="413.50" stroke="#6a6a6a" stroke-width="0.9"/>
<line x1="604.84" y1="400.50" x2="614.84" y2="400.50" stroke="#6a6a6a" stroke-width="0.9"/>
<line x1="604.84" y1="413.50" x2="614.84" y2="413.50" stroke="#6a6a6a" stroke-width="0.9"/>
<line x1="663.50" y1="383.00" x2="663.50" y2="395.40" stroke="#6a6a6a" stroke-width="0.9"/>
<line x1="658.40" y1="383.50" x2="668.40" y2="383.50" stroke="#6a6a6a" stroke-width="0.9"/>
<line x1="658.40" y1="395.50" x2="668.40" y2="395.50" stroke="#6a6a6a" stroke-width="0.9"/>
<polyline points="395.60,310.80 422.38,330.60 449.16,322.00 475.94,327.70 502.72,329.40 529.50,359.40 556.28,331.60 583.06,333.20 609.84,350.50 636.62,322.40 663.40,327.50" fill="none" stroke="#1a1a1a" stroke-width="1.2"/>
<polyline points="395.60,315.00 422.38,388.40 449.16,394.10 475.94,389.10 502.72,382.70 529.50,391.00 556.28,407.30 583.06,398.10 609.84,407.30 636.62,396.40 663.40,389.20" fill="none" stroke="#1a1a1a" stroke-width="1.2"/>
<circle cx="395.60" cy="310.80" r="5.0" fill="#d3d3d3" stroke="#3a3a3a" stroke-width="0.7"/>
<circle cx="422.38" cy="330.60" r="5.0" fill="#d3d3d3" stroke="#3a3a3a" stroke-width="0.7"/>
<circle cx="449.16" cy="322.00" r="5.0" fill="#d3d3d3" stroke="#3a3a3a" stroke-width="0.7"/>
<circle cx="475.94" cy="327.70" r="5.0" fill="#d3d3d3" stroke="#3a3a3a" stroke-width="0.7"/>
<circle cx="502.72" cy="329.40" r="5.0" fill="#d3d3d3" stroke="#3a3a3a" stroke-width="0.7"/>
<circle cx="529.50" cy="359.40" r="5.0" fill="#d3d3d3" stroke="#3a3a3a" stroke-width="0.7"/>
<circle cx="556.28" cy="331.60" r="5.0" fill="#d3d3d3" stroke="#3a3a3a" stroke-width="0.7"/>
<circle cx="583.06" cy="333.20" r="5.0" fill="#d3d3d3" stroke="#3a3a3a" stroke-width="0.7"/>
<circle cx="609.84" cy="350.50" r="5.0" fill="#d3d3d3" stroke="#3a3a3a" stroke-width="0.7"/>
<circle cx="636.62" cy="322.40" r="5.0" fill="#d3d3d3" stroke="#3a3a3a" stroke-width="0.7"/>
<circle cx="663.40" cy="327.50" r="5.0" fill="#d3d3d3" stroke="#3a3a3a" stroke-width="0.7"/>
<circle cx="395.60" cy="315.00" r="5.0" fill="#ef3b3b" stroke="#3a3a3a" stroke-width="0.7"/>
<circle cx="422.38" cy="388.40" r="5.0" fill="#ef3b3b" stroke="#3a3a3a" stroke-width="0.7"/>
<circle cx="449.16" cy="394.10" r="5.0" fill="#ef3b3b" stroke="#3a3a3a" stroke-width="0.7"/>
<circle cx="475.94" cy="389.10" r="5.0" fill="#ef3b3b" stroke="#3a3a3a" stroke-width="0.7"/>
<circle cx="502.72" cy="382.70" r="5.0" fill="#ef3b3b" stroke="#3a3a3a" stroke-width="0.7"/>
<circle cx="529.50" cy="391.00" r="5.0" fill="#ef3b3b" stroke="#3a3a3a" stroke-width="0.7"/>
<circle cx="556.28" cy="407.30" r="5.0" fill="#ef3b3b" stroke="#3a3a3a" stroke-width="0.7"/>
<circle cx="583.06" cy="398.10" r="5.0" fill="#ef3b3b" stroke="#3a3a3a" stroke-width="0.7"/>
<circle cx="609.84" cy="407.30" r="5.0" fill="#ef3b3b" stroke="#3a3a3a" stroke-width="0.7"/>
<circle cx="636.62" cy="396.40" r="5.0" fill="#ef3b3b" stroke="#3a3a3a" stroke-width="0.7"/>
<circle cx="663.40" cy="389.20" r="5.0" fill="#ef3b3b" stroke="#3a3a3a" stroke-width="0.7"/>
<polygon points="419.45,400.50 420.27,402.17 422.11,402.43 420.78,403.73 421.10,405.57 419.45,404.70 417.80,405.57 418.12,403.73 416.79,402.43 418.63,402.17" fill="#2b2b2b"/>
<polygon points="425.35,400.50 426.17,402.17 428.01,402.43 426.68,403.73 427.00,405.57 425.35,404.70 423.70,405.57 424.02,403.73 422.69,402.43 424.53,402.17" fill="#2b2b2b"/>
<text x="401.80" y="414.90" font-size="9.8" textLength="40.50" lengthAdjust="spacingAndGlyphs"><tspan font-style="italic">P</tspan> = 0.008</text>
<text x="428.60" y="372.30" font-size="9.8" textLength="39.70" lengthAdjust="spacingAndGlyphs"><tspan font-style="italic">P</tspan> = 0.002</text>
<polygon points="446.25,375.70 447.07,377.37 448.91,377.63 447.58,378.93 447.90,380.77 446.25,379.90 444.60,380.77 444.92,378.93 443.59,377.63 445.43,377.37" fill="#2b2b2b"/>
<polygon points="452.15,375.70 452.97,377.37 454.81,377.63 453.48,378.93 453.80,380.77 452.15,379.90 450.50,380.77 450.82,378.93 449.49,377.63 451.33,377.37" fill="#2b2b2b"/>
<polygon points="473.05,403.00 473.87,404.67 475.71,404.93 474.38,406.23 474.70,408.07 473.05,407.20 471.40,408.07 471.72,406.23 470.39,404.93 472.23,404.67" fill="#2b2b2b"/>
<polygon points="478.95,403.00 479.77,404.67 481.61,404.93 480.28,406.23 480.60,408.07 478.95,407.20 477.30,408.07 477.62,406.23 476.29,404.93 478.13,404.67" fill="#2b2b2b"/>
<text x="456.60" y="416.40" font-size="9.8" textLength="40.20" lengthAdjust="spacingAndGlyphs"><tspan font-style="italic">P</tspan> = 0.004</text>
<text x="483.20" y="362.30" font-size="9.8" textLength="37.10" lengthAdjust="spacingAndGlyphs"><tspan font-style="italic">P</tspan> = 0.015</text>
<polygon points="502.80,365.00 503.62,366.67 505.46,366.93 504.13,368.23 504.45,370.07 502.80,369.20 501.15,370.07 501.47,368.23 500.14,366.93 501.98,366.67" fill="#2b2b2b"/>
<polygon points="553.25,416.10 554.07,417.77 555.91,418.03 554.58,419.33 554.90,421.17 553.25,420.30 551.60,421.17 551.92,419.33 550.59,418.03 552.43,417.77" fill="#2b2b2b"/>
<polygon points="559.15,416.10 559.97,417.77 561.81,418.03 560.48,419.33 560.80,421.17 559.15,420.30 557.50,421.17 557.82,419.33 556.49,418.03 558.33,417.77" fill="#2b2b2b"/>
<text x="537.80" y="428.30" font-size="9.8" textLength="41.10" lengthAdjust="spacingAndGlyphs"><tspan font-style="italic">P</tspan> = 0.004</text>
<text x="563.50" y="381.90" font-size="9.8" textLength="38.60" lengthAdjust="spacingAndGlyphs"><tspan font-style="italic">P</tspan> = 0.018</text>
<polygon points="583.20,384.50 584.02,386.17 585.86,386.43 584.53,387.73 584.85,389.57 583.20,388.70 581.55,389.57 581.87,387.73 580.54,386.43 582.38,386.17" fill="#2b2b2b"/>
<polygon points="606.95,418.00 607.77,419.67 609.61,419.93 608.28,421.23 608.60,423.07 606.95,422.20 605.30,423.07 605.62,421.23 604.29,419.93 606.13,419.67" fill="#2b2b2b"/>
<polygon points="612.85,418.00 613.67,419.67 615.51,419.93 614.18,421.23 614.50,423.07 612.85,422.20 611.20,423.07 611.52,421.23 610.19,419.93 612.03,419.67" fill="#2b2b2b"/>
<text x="591.30" y="431.00" font-size="9.8" textLength="41.00" lengthAdjust="spacingAndGlyphs"><tspan font-style="italic">P</tspan> = 0.006</text>
<text x="617.50" y="379.70" font-size="9.8" textLength="38.60" lengthAdjust="spacingAndGlyphs"><tspan font-style="italic">P</tspan> = 0.001</text>
<polygon points="633.95,382.30 634.77,383.97 636.61,384.23 635.28,385.53 635.60,387.37 633.95,386.50 632.30,387.37 632.62,385.53 631.29,384.23 633.13,383.97" fill="#2b2b2b"/>
<polygon points="639.85,382.30 640.67,383.97 642.51,384.23 641.18,385.53 641.50,387.37 639.85,386.50 638.20,387.37 638.52,385.53 637.19,384.23 639.03,383.97" fill="#2b2b2b"/>
<polygon points="663.90,401.20 664.72,402.87 666.56,403.13 665.23,404.43 665.55,406.27 663.90,405.40 662.25,406.27 662.57,404.43 661.24,403.13 663.08,402.87" fill="#2b2b2b"/>
<text x="645.30" y="415.60" font-size="9.8" textLength="39.10" lengthAdjust="spacingAndGlyphs"><tspan font-style="italic">P</tspan> = 0.024</text>
<circle cx="614.00" cy="264.00" r="4.7" fill="#d3d3d3" stroke="#3a3a3a" stroke-width="0.7"/>
<circle cx="614.00" cy="280.20" r="4.7" fill="#ef3b3b" stroke="#3a3a3a" stroke-width="0.7"/>
<text x="624.80" y="267.60" font-size="10.8" textLength="55.60" lengthAdjust="spacingAndGlyphs">− NG patch</text>
<text x="624.80" y="283.80" font-size="10.8" textLength="55.60" lengthAdjust="spacingAndGlyphs">+ NG patch</text>
<text x="-0.60" y="506.50" font-size="16.5" textLength="10.80" lengthAdjust="spacingAndGlyphs" font-weight="bold" fill="#000">e</text>
<line x1="58.80" y1="668.50" x2="274.70" y2="668.50" stroke="#5a5a5a" stroke-width="0.9"/>
<line x1="65.50" y1="506.60" x2="65.50" y2="668.70" stroke="#5a5a5a" stroke-width="0.9"/>
<line x1="58.80" y1="668.50" x2="65.80" y2="668.50" stroke="#5a5a5a" stroke-width="0.9"/>
<text x="52.90" y="672.12" font-size="9.5" text-anchor="end" textLength="5.60" lengthAdjust="spacingAndGlyphs">0</text>
<line x1="58.80" y1="628.50" x2="65.80" y2="628.50" stroke="#5a5a5a" stroke-width="0.9"/>
<text x="52.90" y="631.60" font-size="9.5" text-anchor="end" textLength="16.80" lengthAdjust="spacingAndGlyphs">300</text>
<line x1="58.80" y1="587.50" x2="65.80" y2="587.50" stroke="#5a5a5a" stroke-width="0.9"/>
<text x="52.90" y="591.07" font-size="9.5" text-anchor="end" textLength="16.80" lengthAdjust="spacingAndGlyphs">600</text>
<line x1="58.80" y1="547.50" x2="65.80" y2="547.50" stroke="#5a5a5a" stroke-width="0.9"/>
<text x="52.90" y="550.55" font-size="9.5" text-anchor="end" textLength="16.80" lengthAdjust="spacingAndGlyphs">900</text>
<line x1="58.80" y1="506.50" x2="65.80" y2="506.50" stroke="#5a5a5a" stroke-width="0.9"/>
<text x="52.90" y="510.02" font-size="9.5" text-anchor="end" textLength="23.60" lengthAdjust="spacingAndGlyphs">1,200</text>
<line x1="85.50" y1="668.70" x2="85.50" y2="674.40" stroke="#5a5a5a" stroke-width="0.9"/>
<text x="85.10" y="686.60" font-size="8.6" text-anchor="middle">7</text>
<line x1="127.50" y1="668.70" x2="127.50" y2="674.40" stroke="#5a5a5a" stroke-width="0.9"/>
<text x="127.30" y="686.60" font-size="8.6" text-anchor="middle">14</text>
<line x1="169.50" y1="668.70" x2="169.50" y2="674.40" stroke="#5a5a5a" stroke-width="0.9"/>
<text x="169.50" y="686.60" font-size="8.6" text-anchor="middle">21</text>
<line x1="211.50" y1="668.70" x2="211.50" y2="674.40" stroke="#5a5a5a" stroke-width="0.9"/>
<text x="211.70" y="686.60" font-size="8.6" text-anchor="middle">28</text>
<line x1="253.50" y1="668.70" x2="253.50" y2="674.40" stroke="#5a5a5a" stroke-width="0.9"/>
<text x="253.90" y="686.60" font-size="8.6" text-anchor="middle">35</text>
<text x="141.30" y="702.80" font-size="10.9" textLength="57.20" lengthAdjust="spacingAndGlyphs">Time (days)</text>
<text transform="translate(8.80,587.80) rotate(-90)" x="0" y="0" font-size="11" text-anchor="middle" textLength="49.20" lengthAdjust="spacingAndGlyphs">Heart rate</text>
<text transform="translate(22.00,587.00) rotate(-90)" x="0" y="0" font-size="11.2" text-anchor="middle" textLength="91.50" lengthAdjust="spacingAndGlyphs">(beats per minute)</text>
<rect x="71.40" y="577.30" width="12.30" height="91.40" fill="#e8e8e8" stroke="#777" stroke-width="0.9"/>
<rect x="86.50" y="582.80" width="12.40" height="85.90" fill="#a3f2d5" stroke="#666" stroke-width="0.9"/>
<rect x="113.60" y="583.40" width="12.30" height="85.30" fill="#e8e8e8" stroke="#777" stroke-width="0.9"/>
<rect x="128.70" y="579.90" width="12.40" height="88.80" fill="#a3f2d5" stroke="#666" stroke-width="0.9"/>
<rect x="155.80" y="587.10" width="12.30" height="81.60" fill="#e8e8e8" stroke="#777" stroke-width="0.9"/>
<rect x="170.90" y="582.20" width="12.40" height="86.50" fill="#a3f2d5" stroke="#666" stroke-width="0.9"/>
<rect x="198.00" y="576.40" width="12.30" height="92.30" fill="#e8e8e8" stroke="#777" stroke-width="0.9"/>
<rect x="213.10" y="583.40" width="12.40" height="85.30" fill="#a3f2d5" stroke="#666" stroke-width="0.9"/>
<rect x="240.20" y="575.20" width="12.30" height="93.50" fill="#e8e8e8" stroke="#777" stroke-width="0.9"/>
<rect x="255.30" y="584.50" width="12.40" height="84.20" fill="#a3f2d5" stroke="#666" stroke-width="0.9"/>
<line x1="162.50" y1="584.00" x2="162.50" y2="589.80" stroke="#4a4a4a" stroke-width="0.9"/>
<line x1="159.40" y1="584.50" x2="165.20" y2="584.50" stroke="#4a4a4a" stroke-width="0.9"/>
<line x1="159.40" y1="589.50" x2="165.20" y2="589.50" stroke="#4a4a4a" stroke-width="0.9"/>
<line x1="134.50" y1="574.00" x2="134.50" y2="585.00" stroke="#4a4a4a" stroke-width="0.9"/>
<line x1="131.80" y1="574.50" x2="137.60" y2="574.50" stroke="#4a4a4a" stroke-width="0.9"/>
<line x1="131.80" y1="585.50" x2="137.60" y2="585.50" stroke="#4a4a4a" stroke-width="0.9"/>
<circle cx="76.70" cy="573.40" r="4.2" fill="#d3d3d3" stroke="#777" stroke-width="0.7"/>
<circle cx="80.00" cy="574.60" r="4.2" fill="#d3d3d3" stroke="#777" stroke-width="0.7"/>
<circle cx="74.90" cy="581.00" r="4.2" fill="#d3d3d3" stroke="#777" stroke-width="0.7"/>
<circle cx="77.80" cy="580.10" r="4.2" fill="#d3d3d3" stroke="#777" stroke-width="0.7"/>
<circle cx="119.00" cy="578.70" r="4.2" fill="#d3d3d3" stroke="#777" stroke-width="0.7"/>
<circle cx="117.00" cy="585.50" r="4.2" fill="#d3d3d3" stroke="#777" stroke-width="0.7"/>
<circle cx="123.40" cy="584.00" r="4.2" fill="#d3d3d3" stroke="#777" stroke-width="0.7"/>
<circle cx="159.90" cy="582.40" r="4.2" fill="#d3d3d3" stroke="#777" stroke-width="0.7"/>
<circle cx="164.60" cy="583.40" r="4.2" fill="#d3d3d3" stroke="#777" stroke-width="0.7"/>
<circle cx="162.30" cy="596.40" r="4.2" fill="#d3d3d3" stroke="#777" stroke-width="0.7"/>
<circle cx="204.30" cy="567.60" r="4.2" fill="#d3d3d3" stroke="#777" stroke-width="0.7"/>
<circle cx="204.90" cy="575.20" r="4.2" fill="#d3d3d3" stroke="#777" stroke-width="0.7"/>
<circle cx="207.20" cy="578.10" r="4.2" fill="#d3d3d3" stroke="#777" stroke-width="0.7"/>
<circle cx="202.60" cy="581.00" r="4.2" fill="#d3d3d3" stroke="#777" stroke-width="0.7"/>
<circle cx="244.00" cy="571.10" r="4.2" fill="#d3d3d3" stroke="#777" stroke-width="0.7"/>
<circle cx="246.40" cy="572.80" r="4.2" fill="#d3d3d3" stroke="#777" stroke-width="0.7"/>
<circle cx="249.30" cy="572.60" r="4.2" fill="#d3d3d3" stroke="#777" stroke-width="0.7"/>
<circle cx="244.30" cy="581.60" r="4.2" fill="#d3d3d3" stroke="#777" stroke-width="0.7"/>
<polygon points="90.50,573.23 86.55,580.57 94.45,580.57" fill="#3ddc9e" stroke="#2a2a2a" stroke-width="0.7" stroke-linejoin="miter"/>
<polygon points="93.00,580.33 89.05,587.67 96.95,587.67" fill="#3ddc9e" stroke="#2a2a2a" stroke-width="0.7" stroke-linejoin="miter"/>
<polygon points="96.00,579.73 92.05,587.07 99.95,587.07" fill="#3ddc9e" stroke="#2a2a2a" stroke-width="0.7" stroke-linejoin="miter"/>
<polygon points="90.50,584.93 86.55,592.27 94.45,592.27" fill="#3ddc9e" stroke="#2a2a2a" stroke-width="0.7" stroke-linejoin="miter"/>
<polygon points="134.70,565.63 130.75,572.97 138.65,572.97" fill="#3ddc9e" stroke="#2a2a2a" stroke-width="0.7" stroke-linejoin="miter"/>
<polygon points="132.50,574.43 128.55,581.77 136.45,581.77" fill="#3ddc9e" stroke="#2a2a2a" stroke-width="0.7" stroke-linejoin="miter"/>
<polygon points="137.20,579.73 133.25,587.07 141.15,587.07" fill="#3ddc9e" stroke="#2a2a2a" stroke-width="0.7" stroke-linejoin="miter"/>
<polygon points="132.70,587.33 128.75,594.67 136.65,594.67" fill="#3ddc9e" stroke="#2a2a2a" stroke-width="0.7" stroke-linejoin="miter"/>
<polygon points="175.10,575.03 171.15,582.37 179.05,582.37" fill="#3ddc9e" stroke="#2a2a2a" stroke-width="0.7" stroke-linejoin="miter"/>
<polygon points="177.10,575.63 173.15,582.97 181.05,582.97" fill="#3ddc9e" stroke="#2a2a2a" stroke-width="0.7" stroke-linejoin="miter"/>
<polygon points="179.80,580.33 175.85,587.67 183.75,587.67" fill="#3ddc9e" stroke="#2a2a2a" stroke-width="0.7" stroke-linejoin="miter"/>
<polygon points="174.80,584.33 170.85,591.67 178.75,591.67" fill="#3ddc9e" stroke="#2a2a2a" stroke-width="0.7" stroke-linejoin="miter"/>
<polygon points="221.50,572.13 217.55,579.47 225.45,579.47" fill="#3ddc9e" stroke="#2a2a2a" stroke-width="0.7" stroke-linejoin="miter"/>
<polygon points="218.90,579.13 214.95,586.47 222.85,586.47" fill="#3ddc9e" stroke="#2a2a2a" stroke-width="0.7" stroke-linejoin="miter"/>
<polygon points="221.50,582.63 217.55,589.97 225.45,589.97" fill="#3ddc9e" stroke="#2a2a2a" stroke-width="0.7" stroke-linejoin="miter"/>
<polygon points="217.20,586.13 213.25,593.47 221.15,593.47" fill="#3ddc9e" stroke="#2a2a2a" stroke-width="0.7" stroke-linejoin="miter"/>
<polygon points="263.90,573.83 259.95,581.17 267.85,581.17" fill="#3ddc9e" stroke="#2a2a2a" stroke-width="0.7" stroke-linejoin="miter"/>
<polygon points="259.20,577.33 255.25,584.67 263.15,584.67" fill="#3ddc9e" stroke="#2a2a2a" stroke-width="0.7" stroke-linejoin="miter"/>
<polygon points="263.90,583.23 259.95,590.57 267.85,590.57" fill="#3ddc9e" stroke="#2a2a2a" stroke-width="0.7" stroke-linejoin="miter"/>
<polygon points="259.80,589.03 255.85,596.37 263.75,596.37" fill="#3ddc9e" stroke="#2a2a2a" stroke-width="0.7" stroke-linejoin="miter"/>
<circle cx="130.80" cy="512.50" r="4.7" fill="#d3d3d3" stroke="#777" stroke-width="0.7"/>
<polygon points="130.80,523.04 125.90,532.16 135.70,532.16" fill="#3ddc9e" stroke="#2a2a2a" stroke-width="0.7" stroke-linejoin="miter"/>
<text x="141.70" y="516.80" font-size="10.8" textLength="55.20" lengthAdjust="spacingAndGlyphs">− NG patch</text>
<text x="141.70" y="530.80" font-size="10.8" textLength="55.20" lengthAdjust="spacingAndGlyphs">+ NG patch</text>
<text x="326.80" y="506.60" font-size="16.5" textLength="7.40" lengthAdjust="spacingAndGlyphs" font-weight="bold" fill="#000">f</text>
<line x1="379.10" y1="670.50" x2="580.70" y2="670.50" stroke="#5a5a5a" stroke-width="0.9"/>
<line x1="385.50" y1="517.80" x2="385.50" y2="670.40" stroke="#5a5a5a" stroke-width="0.9"/>
<line x1="379.10" y1="670.50" x2="385.70" y2="670.50" stroke="#5a5a5a" stroke-width="0.9"/>
<text x="373.30" y="673.96" font-size="9.9" text-anchor="end" textLength="5.60" lengthAdjust="spacingAndGlyphs">0</text>
<line x1="379.10" y1="619.50" x2="385.70" y2="619.50" stroke="#5a5a5a" stroke-width="0.9"/>
<text x="373.30" y="623.10" font-size="9.9" text-anchor="end" textLength="11.20" lengthAdjust="spacingAndGlyphs">50</text>
<line x1="379.10" y1="568.50" x2="385.70" y2="568.50" stroke="#5a5a5a" stroke-width="0.9"/>
<text x="373.30" y="572.23" font-size="9.9" text-anchor="end" textLength="15.60" lengthAdjust="spacingAndGlyphs">100</text>
<line x1="379.10" y1="517.50" x2="385.70" y2="517.50" stroke="#5a5a5a" stroke-width="0.9"/>
<text x="373.30" y="521.37" font-size="9.9" text-anchor="end" textLength="15.60" lengthAdjust="spacingAndGlyphs">150</text>
<text transform="translate(349.40,593.70) rotate(-90)" x="0" y="0" font-size="10.9" text-anchor="middle" textLength="66.10" lengthAdjust="spacingAndGlyphs">MAP (mmHg)</text>
<line x1="408.50" y1="670.40" x2="408.50" y2="676.70" stroke="#5a5a5a" stroke-width="0.9"/>
<line x1="458.50" y1="670.40" x2="458.50" y2="676.70" stroke="#5a5a5a" stroke-width="0.9"/>
<line x1="507.50" y1="670.40" x2="507.50" y2="676.70" stroke="#5a5a5a" stroke-width="0.9"/>
<line x1="556.50" y1="670.40" x2="556.50" y2="676.70" stroke="#5a5a5a" stroke-width="0.9"/>
<text x="408.90" y="691.30" font-size="8.5" text-anchor="middle">–</text>
<text x="458.40" y="691.30" font-size="8.5" text-anchor="middle">+</text>
<text x="507.50" y="691.30" font-size="8.5" text-anchor="middle">–</text>
<text x="556.60" y="691.30" font-size="8.5" text-anchor="middle">+</text>
<text x="385.20" y="685.40" font-size="11" text-anchor="end" textLength="47.30" lengthAdjust="spacingAndGlyphs">NG patch</text>
<text x="385.20" y="698.00" font-size="11" text-anchor="end" textLength="85.20" lengthAdjust="spacingAndGlyphs">(130 μg per 24 h)</text>
<line x1="385.80" y1="704.50" x2="476.30" y2="704.50" stroke="#9a9a9a" stroke-width="1.0"/>
<line x1="486.90" y1="704.50" x2="577.50" y2="704.50" stroke="#9a9a9a" stroke-width="1.0"/>
<text x="400.90" y="718.30" font-size="10.8" textLength="61.00" lengthAdjust="spacingAndGlyphs">HEK-293 WT</text>
<text x="506.80" y="718.30" font-size="10.8" textLength="19.30" lengthAdjust="spacingAndGlyphs">HEK</text>
<text x="526.10" y="721.30" font-size="7.3" textLength="32.10" lengthAdjust="spacingAndGlyphs">hNORM3</text>
<rect x="393.00" y="584.10" width="14.60" height="86.30" fill="#f2f2f2" stroke="#6e6e6e" stroke-width="0.9"/>
<rect x="410.50" y="584.10" width="14.20" height="86.30" fill="#deeafa" stroke="#6e6e6e" stroke-width="0.9"/>
<rect x="442.40" y="584.80" width="14.40" height="85.60" fill="#f2f2f2" stroke="#6e6e6e" stroke-width="0.9"/>
<rect x="460.20" y="606.40" width="14.10" height="64.00" fill="#deeafa" stroke="#6e6e6e" stroke-width="0.9"/>
<rect x="491.40" y="575.80" width="15.20" height="94.60" fill="#f2f2f2" stroke="#6e6e6e" stroke-width="0.9"/>
<rect x="509.20" y="577.20" width="14.60" height="93.20" fill="#deeafa" stroke="#6e6e6e" stroke-width="0.9"/>
<rect x="541.30" y="580.60" width="14.60" height="89.80" fill="#f2f2f2" stroke="#6e6e6e" stroke-width="0.9"/>
<rect x="558.80" y="582.30" width="14.30" height="88.10" fill="#deeafa" stroke="#6e6e6e" stroke-width="0.9"/>
<line x1="417.50" y1="578.20" x2="417.50" y2="590.00" stroke="#4a4a4a" stroke-width="0.9"/>
<line x1="414.50" y1="578.50" x2="420.30" y2="578.50" stroke="#4a4a4a" stroke-width="0.9"/>
<line x1="414.50" y1="590.50" x2="420.30" y2="590.50" stroke="#4a4a4a" stroke-width="0.9"/>
<line x1="516.50" y1="571.00" x2="516.50" y2="584.00" stroke="#4a4a4a" stroke-width="0.9"/>
<line x1="513.60" y1="571.50" x2="519.40" y2="571.50" stroke="#4a4a4a" stroke-width="0.9"/>
<line x1="513.60" y1="584.50" x2="519.40" y2="584.50" stroke="#4a4a4a" stroke-width="0.9"/>
<line x1="449.50" y1="580.00" x2="449.50" y2="590.00" stroke="#4a4a4a" stroke-width="0.9"/>
<line x1="446.60" y1="580.50" x2="452.40" y2="580.50" stroke="#4a4a4a" stroke-width="0.9"/>
<line x1="446.60" y1="590.50" x2="452.40" y2="590.50" stroke="#4a4a4a" stroke-width="0.9"/>
<line x1="565.50" y1="577.00" x2="565.50" y2="588.00" stroke="#4a4a4a" stroke-width="0.9"/>
<line x1="562.50" y1="577.50" x2="568.30" y2="577.50" stroke="#4a4a4a" stroke-width="0.9"/>
<line x1="562.50" y1="588.50" x2="568.30" y2="588.50" stroke="#4a4a4a" stroke-width="0.9"/>
<circle cx="397.00" cy="579.70" r="4.1" fill="#d3d3d3" stroke="#3a3a3a" stroke-width="0.7"/>
<circle cx="401.10" cy="581.90" r="4.1" fill="#d3d3d3" stroke="#3a3a3a" stroke-width="0.7"/>
<circle cx="404.30" cy="582.60" r="4.1" fill="#d3d3d3" stroke="#3a3a3a" stroke-width="0.7"/>
<circle cx="397.40" cy="588.50" r="4.1" fill="#d3d3d3" stroke="#3a3a3a" stroke-width="0.7"/>
<circle cx="446.00" cy="582.60" r="4.1" fill="#d3d3d3" stroke="#3a3a3a" stroke-width="0.7"/>
<circle cx="449.20" cy="587.00" r="4.1" fill="#d3d3d3" stroke="#3a3a3a" stroke-width="0.7"/>
<circle cx="453.30" cy="587.00" r="4.1" fill="#d3d3d3" stroke="#3a3a3a" stroke-width="0.7"/>
<circle cx="446.30" cy="592.10" r="4.1" fill="#d3d3d3" stroke="#3a3a3a" stroke-width="0.7"/>
<circle cx="495.30" cy="568.50" r="4.1" fill="#d3d3d3" stroke="#3a3a3a" stroke-width="0.7"/>
<circle cx="499.00" cy="575.00" r="4.1" fill="#d3d3d3" stroke="#3a3a3a" stroke-width="0.7"/>
<circle cx="502.60" cy="576.50" r="4.1" fill="#d3d3d3" stroke="#3a3a3a" stroke-width="0.7"/>
<circle cx="495.30" cy="579.70" r="4.1" fill="#d3d3d3" stroke="#3a3a3a" stroke-width="0.7"/>
<circle cx="545.00" cy="575.00" r="4.1" fill="#d3d3d3" stroke="#3a3a3a" stroke-width="0.7"/>
<circle cx="551.50" cy="573.30" r="4.1" fill="#d3d3d3" stroke="#3a3a3a" stroke-width="0.7"/>
<circle cx="545.00" cy="586.70" r="4.1" fill="#d3d3d3" stroke="#3a3a3a" stroke-width="0.7"/>
<circle cx="551.50" cy="585.50" r="4.1" fill="#d3d3d3" stroke="#3a3a3a" stroke-width="0.7"/>
<polygon points="417.40,568.07 413.50,575.33 421.30,575.33" fill="#b7cff0" stroke="#3a3a3a" stroke-width="0.7" stroke-linejoin="miter"/>
<polygon points="417.40,577.57 413.50,584.83 421.30,584.83" fill="#b7cff0" stroke="#3a3a3a" stroke-width="0.7" stroke-linejoin="miter"/>
<polygon points="421.20,585.57 417.30,592.83 425.10,592.83" fill="#b7cff0" stroke="#3a3a3a" stroke-width="0.7" stroke-linejoin="miter"/>
<polygon points="414.20,591.07 410.30,598.33 418.10,598.33" fill="#b7cff0" stroke="#3a3a3a" stroke-width="0.7" stroke-linejoin="miter"/>
<polygon points="470.40,595.47 466.50,602.73 474.30,602.73" fill="#b7cff0" stroke="#3a3a3a" stroke-width="0.7" stroke-linejoin="miter"/>
<polygon points="463.80,598.67 459.90,605.93 467.70,605.93" fill="#b7cff0" stroke="#3a3a3a" stroke-width="0.7" stroke-linejoin="miter"/>
<polygon points="470.40,604.57 466.50,611.83 474.30,611.83" fill="#b7cff0" stroke="#3a3a3a" stroke-width="0.7" stroke-linejoin="miter"/>
<polygon points="463.80,611.57 459.90,618.83 467.70,618.83" fill="#b7cff0" stroke="#3a3a3a" stroke-width="0.7" stroke-linejoin="miter"/>
<polygon points="513.30,567.77 509.40,575.03 517.20,575.03" fill="#b7cff0" stroke="#3a3a3a" stroke-width="0.7" stroke-linejoin="miter"/>
<polygon points="519.70,567.07 515.80,574.33 523.60,574.33" fill="#b7cff0" stroke="#3a3a3a" stroke-width="0.7" stroke-linejoin="miter"/>
<polygon points="513.60,582.37 509.70,589.63 517.50,589.63" fill="#b7cff0" stroke="#3a3a3a" stroke-width="0.7" stroke-linejoin="miter"/>
<polygon points="519.70,579.37 515.80,586.63 523.60,586.63" fill="#b7cff0" stroke="#3a3a3a" stroke-width="0.7" stroke-linejoin="miter"/>
<polygon points="562.50,572.87 558.60,580.13 566.40,580.13" fill="#b7cff0" stroke="#3a3a3a" stroke-width="0.7" stroke-linejoin="miter"/>
<polygon points="569.00,578.67 565.10,585.93 572.90,585.93" fill="#b7cff0" stroke="#3a3a3a" stroke-width="0.7" stroke-linejoin="miter"/>
<polygon points="565.40,579.37 561.50,586.63 569.30,586.63" fill="#b7cff0" stroke="#3a3a3a" stroke-width="0.7" stroke-linejoin="miter"/>
<polygon points="562.50,584.57 558.60,591.83 566.40,591.83" fill="#b7cff0" stroke="#3a3a3a" stroke-width="0.7" stroke-linejoin="miter"/>
<text x="431.70" y="560.70" font-size="9.8" textLength="46.30" lengthAdjust="spacingAndGlyphs"><tspan font-style="italic">P</tspan> = 0.0064</text>
<polygon points="452.55,566.20 453.37,567.87 455.21,568.13 453.88,569.43 454.20,571.27 452.55,570.40 450.90,571.27 451.22,569.43 449.89,568.13 451.73,567.87" fill="#2b2b2b"/>
<polygon points="458.45,566.20 459.27,567.87 461.11,568.13 459.78,569.43 460.10,571.27 458.45,570.40 456.80,571.27 457.12,569.43 455.79,568.13 457.63,567.87" fill="#2b2b2b"/>
<line x1="441.90" y1="573.50" x2="468.50" y2="573.50" stroke="#e8585c" stroke-width="0.9"/>
<text x="549.80" y="552.80" font-size="9.8" textLength="13.40" lengthAdjust="spacingAndGlyphs">NS</text>
<line x1="543.10" y1="560.40" x2="569.30" y2="561.00" stroke="#e8585c" stroke-width="0.9"/>
<rect x="606.40" y="517.20" width="9.30" height="9.20" fill="#f2f2f2" stroke="#666" stroke-width="0.9"/>
<rect x="606.40" y="532.50" width="9.30" height="9.10" fill="#deeafa" stroke="#666" stroke-width="0.9"/>
<text x="621.90" y="525.70" font-size="10.9" textLength="15.30" lengthAdjust="spacingAndGlyphs">0 h</text>
<text x="621.90" y="540.80" font-size="10.9" textLength="21.20" lengthAdjust="spacingAndGlyphs">24 h</text>
<text x="133.80" y="748.60" font-size="16.5" textLength="12.20" lengthAdjust="spacingAndGlyphs" font-weight="bold" fill="#000">g</text>
<line x1="193.20" y1="896.50" x2="397.00" y2="896.50" stroke="#5a5a5a" stroke-width="0.9"/>
<line x1="199.50" y1="747.40" x2="199.50" y2="896.20" stroke="#5a5a5a" stroke-width="0.9"/>
<line x1="193.20" y1="896.50" x2="199.40" y2="896.50" stroke="#5a5a5a" stroke-width="0.9"/>
<text x="187.60" y="899.51" font-size="9.2" text-anchor="end" textLength="5.60" lengthAdjust="spacingAndGlyphs">0</text>
<line x1="193.20" y1="859.50" x2="199.40" y2="859.50" stroke="#5a5a5a" stroke-width="0.9"/>
<text x="187.60" y="862.31" font-size="9.2" text-anchor="end" textLength="16.80" lengthAdjust="spacingAndGlyphs">300</text>
<line x1="193.20" y1="821.50" x2="199.40" y2="821.50" stroke="#5a5a5a" stroke-width="0.9"/>
<text x="187.60" y="825.11" font-size="9.2" text-anchor="end" textLength="16.80" lengthAdjust="spacingAndGlyphs">600</text>
<line x1="193.20" y1="784.50" x2="199.40" y2="784.50" stroke="#5a5a5a" stroke-width="0.9"/>
<text x="187.60" y="787.91" font-size="9.2" text-anchor="end" textLength="16.80" lengthAdjust="spacingAndGlyphs">900</text>
<line x1="193.20" y1="747.50" x2="199.40" y2="747.50" stroke="#5a5a5a" stroke-width="0.9"/>
<text x="187.60" y="750.71" font-size="9.2" text-anchor="end" textLength="23.60" lengthAdjust="spacingAndGlyphs">1,200</text>
<text transform="translate(143.80,821.50) rotate(-90)" x="0" y="0" font-size="11" text-anchor="middle" textLength="49.50" lengthAdjust="spacingAndGlyphs">Heart rate</text>
<text transform="translate(155.50,822.20) rotate(-90)" x="0" y="0" font-size="11.2" text-anchor="middle" textLength="91.00" lengthAdjust="spacingAndGlyphs">(beats per minute)</text>
<line x1="222.50" y1="896.20" x2="222.50" y2="902.50" stroke="#5a5a5a" stroke-width="0.9"/>
<line x1="272.50" y1="896.20" x2="272.50" y2="902.50" stroke="#5a5a5a" stroke-width="0.9"/>
<line x1="322.50" y1="896.20" x2="322.50" y2="902.50" stroke="#5a5a5a" stroke-width="0.9"/>
<line x1="372.50" y1="896.20" x2="372.50" y2="902.50" stroke="#5a5a5a" stroke-width="0.9"/>
<text x="222.80" y="917.20" font-size="8.5" text-anchor="middle">–</text>
<text x="272.60" y="917.20" font-size="8.5" text-anchor="middle">+</text>
<text x="322.60" y="917.20" font-size="8.5" text-anchor="middle">–</text>
<text x="372.60" y="917.20" font-size="8.5" text-anchor="middle">+</text>
<text x="198.10" y="911.10" font-size="11" text-anchor="end" textLength="47.30" lengthAdjust="spacingAndGlyphs">NG patch</text>
<text x="198.10" y="923.80" font-size="11" text-anchor="end" textLength="85.00" lengthAdjust="spacingAndGlyphs">(130 μg per 24 h)</text>
<line x1="201.50" y1="929.50" x2="292.80" y2="929.50" stroke="#9a9a9a" stroke-width="1.0"/>
<line x1="302.80" y1="929.50" x2="393.30" y2="929.50" stroke="#9a9a9a" stroke-width="1.0"/>
<text x="216.60" y="941.30" font-size="10.8" textLength="61.40" lengthAdjust="spacingAndGlyphs">HEK-293 WT</text>
<text x="322.60" y="941.30" font-size="10.8" textLength="19.60" lengthAdjust="spacingAndGlyphs">HEK</text>
<text x="342.20" y="943.80" font-size="7.3" textLength="32.00" lengthAdjust="spacingAndGlyphs">hNORM3</text>
<rect x="206.60" y="804.20" width="15.00" height="92.00" fill="#f2f2f2" stroke="#6e6e6e" stroke-width="0.9"/>
<rect x="224.50" y="805.70" width="14.90" height="90.50" fill="#a3f2d5" stroke="#666" stroke-width="0.9"/>
<rect x="256.60" y="809.80" width="14.90" height="86.40" fill="#f2f2f2" stroke="#6e6e6e" stroke-width="0.9"/>
<rect x="274.50" y="777.70" width="14.80" height="118.50" fill="#a3f2d5" stroke="#666" stroke-width="0.9"/>
<rect x="306.60" y="809.30" width="15.00" height="86.90" fill="#f2f2f2" stroke="#6e6e6e" stroke-width="0.9"/>
<rect x="324.50" y="813.30" width="14.90" height="82.90" fill="#a3f2d5" stroke="#666" stroke-width="0.9"/>
<rect x="356.60" y="808.50" width="14.90" height="87.70" fill="#f2f2f2" stroke="#6e6e6e" stroke-width="0.9"/>
<rect x="374.50" y="807.40" width="14.80" height="88.80" fill="#a3f2d5" stroke="#666" stroke-width="0.9"/>
<line x1="231.50" y1="800.00" x2="231.50" y2="810.00" stroke="#4a4a4a" stroke-width="0.9"/>
<line x1="228.50" y1="800.50" x2="234.30" y2="800.50" stroke="#4a4a4a" stroke-width="0.9"/>
<line x1="228.50" y1="810.50" x2="234.30" y2="810.50" stroke="#4a4a4a" stroke-width="0.9"/>
<line x1="281.50" y1="772.00" x2="281.50" y2="785.00" stroke="#4a4a4a" stroke-width="0.9"/>
<line x1="278.90" y1="772.50" x2="284.70" y2="772.50" stroke="#4a4a4a" stroke-width="0.9"/>
<line x1="278.90" y1="785.50" x2="284.70" y2="785.50" stroke="#4a4a4a" stroke-width="0.9"/>
<line x1="331.50" y1="808.20" x2="331.50" y2="817.00" stroke="#4a4a4a" stroke-width="0.9"/>
<line x1="328.50" y1="808.50" x2="334.30" y2="808.50" stroke="#4a4a4a" stroke-width="0.9"/>
<line x1="328.50" y1="817.50" x2="334.30" y2="817.50" stroke="#4a4a4a" stroke-width="0.9"/>
<line x1="263.50" y1="803.00" x2="263.50" y2="812.00" stroke="#4a4a4a" stroke-width="0.9"/>
<line x1="261.00" y1="803.50" x2="266.80" y2="803.50" stroke="#4a4a4a" stroke-width="0.9"/>
<line x1="261.00" y1="812.50" x2="266.80" y2="812.50" stroke="#4a4a4a" stroke-width="0.9"/>
<circle cx="213.90" cy="796.20" r="4.1" fill="#d3d3d3" stroke="#3a3a3a" stroke-width="0.7"/>
<circle cx="213.90" cy="803.90" r="4.1" fill="#d3d3d3" stroke="#3a3a3a" stroke-width="0.7"/>
<circle cx="210.20" cy="807.20" r="4.1" fill="#d3d3d3" stroke="#3a3a3a" stroke-width="0.7"/>
<circle cx="217.80" cy="807.20" r="4.1" fill="#d3d3d3" stroke="#3a3a3a" stroke-width="0.7"/>
<circle cx="259.90" cy="803.50" r="4.1" fill="#d3d3d3" stroke="#3a3a3a" stroke-width="0.7"/>
<circle cx="267.90" cy="804.20" r="4.1" fill="#d3d3d3" stroke="#3a3a3a" stroke-width="0.7"/>
<circle cx="263.90" cy="807.40" r="4.1" fill="#d3d3d3" stroke="#3a3a3a" stroke-width="0.7"/>
<circle cx="263.90" cy="819.60" r="4.1" fill="#d3d3d3" stroke="#3a3a3a" stroke-width="0.7"/>
<circle cx="312.80" cy="806.00" r="4.1" fill="#d3d3d3" stroke="#3a3a3a" stroke-width="0.7"/>
<circle cx="317.80" cy="807.40" r="4.1" fill="#d3d3d3" stroke="#3a3a3a" stroke-width="0.7"/>
<circle cx="315.30" cy="808.90" r="4.1" fill="#d3d3d3" stroke="#3a3a3a" stroke-width="0.7"/>
<circle cx="310.50" cy="812.80" r="4.1" fill="#d3d3d3" stroke="#3a3a3a" stroke-width="0.7"/>
<circle cx="360.10" cy="803.50" r="4.1" fill="#d3d3d3" stroke="#3a3a3a" stroke-width="0.7"/>
<circle cx="367.40" cy="804.50" r="4.1" fill="#d3d3d3" stroke="#3a3a3a" stroke-width="0.7"/>
<circle cx="363.90" cy="807.40" r="4.1" fill="#d3d3d3" stroke="#3a3a3a" stroke-width="0.7"/>
<circle cx="363.90" cy="816.90" r="4.1" fill="#d3d3d3" stroke="#3a3a3a" stroke-width="0.7"/>
<polygon points="227.70,796.23 223.75,803.57 231.65,803.57" fill="#3ddc9e" stroke="#2a2a2a" stroke-width="0.7" stroke-linejoin="miter"/>
<polygon points="235.00,796.43 231.05,803.77 238.95,803.77" fill="#3ddc9e" stroke="#2a2a2a" stroke-width="0.7" stroke-linejoin="miter"/>
<polygon points="231.40,799.43 227.45,806.77 235.35,806.77" fill="#3ddc9e" stroke="#2a2a2a" stroke-width="0.7" stroke-linejoin="miter"/>
<polygon points="231.40,816.33 227.45,823.67 235.35,823.67" fill="#3ddc9e" stroke="#2a2a2a" stroke-width="0.7" stroke-linejoin="miter"/>
<polygon points="285.80,765.53 281.85,772.87 289.75,772.87" fill="#3ddc9e" stroke="#2a2a2a" stroke-width="0.7" stroke-linejoin="miter"/>
<polygon points="278.10,771.33 274.15,778.67 282.05,778.67" fill="#3ddc9e" stroke="#2a2a2a" stroke-width="0.7" stroke-linejoin="miter"/>
<polygon points="285.80,776.03 281.85,783.37 289.75,783.37" fill="#3ddc9e" stroke="#2a2a2a" stroke-width="0.7" stroke-linejoin="miter"/>
<polygon points="281.80,783.73 277.85,791.07 285.75,791.07" fill="#3ddc9e" stroke="#2a2a2a" stroke-width="0.7" stroke-linejoin="miter"/>
<polygon points="331.40,798.63 327.45,805.97 335.35,805.97" fill="#3ddc9e" stroke="#2a2a2a" stroke-width="0.7" stroke-linejoin="miter"/>
<polygon points="328.00,808.13 324.05,815.47 331.95,815.47" fill="#3ddc9e" stroke="#2a2a2a" stroke-width="0.7" stroke-linejoin="miter"/>
<polygon points="335.30,812.13 331.35,819.47 339.25,819.47" fill="#3ddc9e" stroke="#2a2a2a" stroke-width="0.7" stroke-linejoin="miter"/>
<polygon points="328.00,819.53 324.05,826.87 331.95,826.87" fill="#3ddc9e" stroke="#2a2a2a" stroke-width="0.7" stroke-linejoin="miter"/>
<polygon points="378.10,800.83 374.15,808.17 382.05,808.17" fill="#3ddc9e" stroke="#2a2a2a" stroke-width="0.7" stroke-linejoin="miter"/>
<polygon points="385.40,797.93 381.45,805.27 389.35,805.27" fill="#3ddc9e" stroke="#2a2a2a" stroke-width="0.7" stroke-linejoin="miter"/>
<polygon points="385.40,807.43 381.45,814.77 389.35,814.77" fill="#3ddc9e" stroke="#2a2a2a" stroke-width="0.7" stroke-linejoin="miter"/>
<polygon points="378.10,809.63 374.15,816.97 382.05,816.97" fill="#3ddc9e" stroke="#2a2a2a" stroke-width="0.7" stroke-linejoin="miter"/>
<text x="247.90" y="750.00" font-size="10" textLength="44.10" lengthAdjust="spacingAndGlyphs"><tspan font-style="italic">P</tspan> = 0.0256</text>
<polygon points="270.80,754.20 271.62,755.87 273.46,756.13 272.13,757.43 272.45,759.27 270.80,758.40 269.15,759.27 269.47,757.43 268.14,756.13 269.98,755.87" fill="#2b2b2b"/>
<line x1="256.90" y1="761.40" x2="283.20" y2="761.80" stroke="#e8585c" stroke-width="0.9"/>
<text x="366.00" y="789.60" font-size="9.8" textLength="13.60" lengthAdjust="spacingAndGlyphs">NS</text>
<line x1="359.60" y1="792.50" x2="385.80" y2="792.50" stroke="#e8585c" stroke-width="0.9"/>
<rect x="426.10" y="785.30" width="9.60" height="9.50" fill="#f2f2f2" stroke="#666" stroke-width="0.9"/>
<rect x="426.10" y="800.60" width="9.60" height="9.40" fill="#a3f2d5" stroke="#666" stroke-width="0.9"/>
<text x="441.80" y="794.50" font-size="10.9" textLength="16.10" lengthAdjust="spacingAndGlyphs">0 h</text>
<text x="441.80" y="809.70" font-size="10.9" textLength="21.20" lengthAdjust="spacingAndGlyphs">24 h</text>
</g>
</svg>
</body></html>
